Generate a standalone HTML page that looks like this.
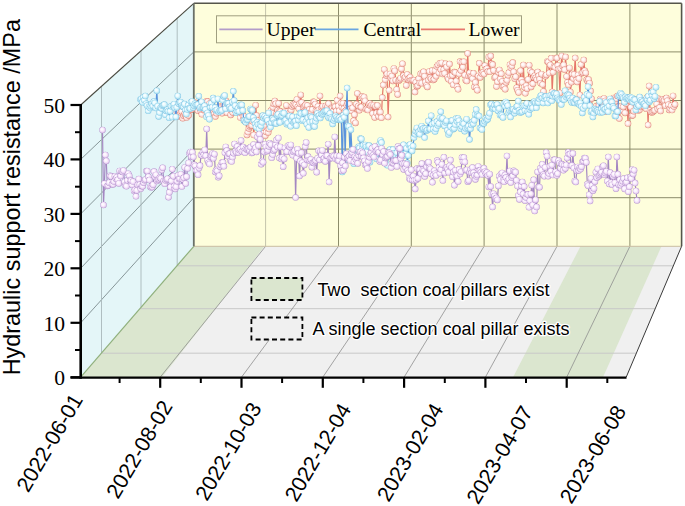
<!DOCTYPE html><html><head><meta charset="utf-8"><style>html,body{margin:0;padding:0;background:#fff;}svg{display:block}</style></head><body>
<svg width="685" height="506" viewBox="0 0 685 506">
<polygon points="80.7,377.2 626.2,377.2 681.6,246.3 193.8,246.3" fill="#f0f0f0" stroke="none" stroke-width="0" />
<polygon points="80.7,377.2 162.0,377.2 264.5,246.3 193.8,246.3" fill="#dbe6cf" stroke="none" stroke-width="0" />
<polygon points="513.0,377.2 603.0,377.2 661.5,246.3 580.5,246.3" fill="#dbe6cf" stroke="none" stroke-width="0" />
<line x1="101.4" y1="353.2" x2="636.4" y2="353.2" stroke="#c8c8c8" stroke-width="1" />
<line x1="139.9" y1="308.7" x2="655.2" y2="308.7" stroke="#c8c8c8" stroke-width="1" />
<line x1="177.0" y1="265.8" x2="673.3" y2="265.8" stroke="#c8c8c8" stroke-width="1" />
<line x1="160.2" y1="377.2" x2="265.6" y2="246.3" stroke="#8e8e8e" stroke-width="0.8" />
<line x1="241.5" y1="377.2" x2="338.5" y2="246.3" stroke="#8e8e8e" stroke-width="0.8" />
<line x1="322.8" y1="377.2" x2="411.3" y2="246.3" stroke="#8e8e8e" stroke-width="0.8" />
<line x1="404.1" y1="377.2" x2="484.1" y2="246.3" stroke="#8e8e8e" stroke-width="0.8" />
<line x1="485.4" y1="377.2" x2="557.0" y2="246.3" stroke="#8e8e8e" stroke-width="0.8" />
<line x1="566.7" y1="377.2" x2="629.9" y2="246.3" stroke="#8e8e8e" stroke-width="0.8" />
<polygon points="193.8,3.3 681.6,3.3 681.6,246.3 193.8,246.3" fill="#fefedc" stroke="none" stroke-width="0" />
<line x1="265.6" y1="3.3" x2="265.6" y2="246.3" stroke="#c4c4ac" stroke-width="1" />
<line x1="338.5" y1="3.3" x2="338.5" y2="246.3" stroke="#8c8c6a" stroke-width="1" />
<line x1="411.3" y1="3.3" x2="411.3" y2="246.3" stroke="#8c8c6a" stroke-width="1" />
<line x1="484.1" y1="3.3" x2="484.1" y2="246.3" stroke="#8c8c6a" stroke-width="1" />
<line x1="557.0" y1="3.3" x2="557.0" y2="246.3" stroke="#8c8c6a" stroke-width="1" />
<line x1="629.9" y1="3.3" x2="629.9" y2="246.3" stroke="#8c8c6a" stroke-width="1" />
<line x1="193.8" y1="197.7" x2="681.6" y2="197.7" stroke="#8c8c6a" stroke-width="1" />
<line x1="193.8" y1="149.1" x2="681.6" y2="149.1" stroke="#8c8c6a" stroke-width="1" />
<line x1="193.8" y1="100.5" x2="681.6" y2="100.5" stroke="#8c8c6a" stroke-width="1" />
<line x1="193.8" y1="51.9" x2="681.6" y2="51.9" stroke="#8c8c6a" stroke-width="1" />
<line x1="193.8" y1="246.3" x2="681.6" y2="246.3" stroke="#c8bca0" stroke-width="1" />
<polygon points="80.7,377.2 80.7,105.0 193.8,3.3 193.8,246.3" fill="#e4f6f8" stroke="none" stroke-width="0" />
<line x1="80.7" y1="322.8" x2="193.8" y2="197.7" stroke="#7d8c8e" stroke-width="0.9" />
<line x1="80.7" y1="268.3" x2="193.8" y2="149.1" stroke="#7d8c8e" stroke-width="0.9" />
<line x1="80.7" y1="213.9" x2="193.8" y2="100.5" stroke="#7d8c8e" stroke-width="0.9" />
<line x1="80.7" y1="159.4" x2="193.8" y2="51.9" stroke="#7d8c8e" stroke-width="0.9" />
<line x1="101.5" y1="86.3" x2="101.5" y2="353.1" stroke="#a8b8ba" stroke-width="0.9" />
<line x1="141.0" y1="50.8" x2="141.0" y2="307.4" stroke="#a8b8ba" stroke-width="0.9" />
<line x1="177.2" y1="18.2" x2="177.2" y2="265.5" stroke="#a8b8ba" stroke-width="0.9" />
<line x1="80.7" y1="377.2" x2="193.8" y2="246.3" stroke="#8fb07c" stroke-width="1.2" />
<line x1="80.7" y1="105.0" x2="193.8" y2="3.3" stroke="#4a4a40" stroke-width="1.1" />
<line x1="193.8" y1="3.3" x2="681.6" y2="3.3" stroke="#55554a" stroke-width="1.6" />
<line x1="681.6" y1="3.3" x2="681.6" y2="246.3" stroke="#55554a" stroke-width="1.6" />
<line x1="193.8" y1="3.3" x2="193.8" y2="246.3" stroke="#6a7068" stroke-width="1.8" />
<line x1="681.6" y1="246.3" x2="626.2" y2="377.2" stroke="#3a3a3a" stroke-width="1.0" />
<rect x="216.5" y="15.8" width="305" height="27" fill="none" stroke="#a09f80" stroke-width="1"/>
<defs><radialGradient id="gu" cx="0.5" cy="0.5" r="0.5" fx="0.36" fy="0.34"><stop offset="0" stop-color="#fff"/><stop offset="0.45" stop-color="#fbf1fd"/><stop offset="0.78" stop-color="#ead2f3"/><stop offset="1" stop-color="#b697cf"/></radialGradient><radialGradient id="gc" cx="0.5" cy="0.5" r="0.5" fx="0.36" fy="0.34"><stop offset="0" stop-color="#fff"/><stop offset="0.45" stop-color="#ecfafe"/><stop offset="0.8" stop-color="#bae9f6"/><stop offset="1" stop-color="#84c4e4"/></radialGradient><radialGradient id="gl" cx="0.5" cy="0.5" r="0.5" fx="0.36" fy="0.34"><stop offset="0" stop-color="#fff"/><stop offset="0.45" stop-color="#fff3f1"/><stop offset="0.78" stop-color="#f8d0c9"/><stop offset="1" stop-color="#e0887c"/></radialGradient></defs>
<polyline points="177.0,112.3 178.0,116.5 178.9,111.0 179.9,115.0 180.8,112.6 181.8,111.4 182.8,118.3 183.7,115.7 184.7,113.7 185.6,115.4 186.6,117.6 187.6,114.7 188.5,115.4 189.5,110.3 190.4,109.9 191.4,109.4 192.4,106.1 193.3,103.8 194.3,102.2 195.2,106.3 196.2,108.5 197.2,109.2 198.1,110.8 199.1,106.8 200.0,109.1 201.0,111.4 201.9,114.3 202.9,110.1 203.9,109.6 204.8,103.7 205.8,106.0 206.7,101.3 207.7,101.6 208.7,110.5 209.6,103.5 210.6,110.4 211.5,112.2 212.5,110.9 213.5,112.9 214.4,114.1 215.4,116.5 216.3,113.2 217.3,110.3 218.3,108.8 219.2,106.8 220.2,109.0 221.1,107.5 222.1,113.2 223.1,105.8 224.0,104.8 225.0,104.8 225.9,100.8 226.9,112.7 227.9,103.6 228.8,106.5 229.8,107.1 230.7,114.9 231.7,106.2 232.7,112.4 233.6,109.3 234.6,109.7 235.5,108.1 236.5,111.8 237.5,107.5 238.4,109.0 239.4,111.3 240.3,117.6 241.3,105.9 242.2,113.8 243.2,116.6 244.2,116.4 245.1,121.3 246.1,122.1 247.0,134.9 248.0,132.0 249.0,128.4 249.9,126.5 250.9,125.7 251.8,125.4 252.8,121.6 253.8,135.1 254.7,121.1 255.7,105.2 256.6,115.5 257.6,120.5 258.6,125.7 259.5,125.3 260.5,125.4 261.4,127.9 262.4,132.5 263.4,127.4 264.3,125.3 265.3,135.7 266.2,132.1 267.2,121.4 268.2,132.5 269.1,129.0 270.1,119.3 271.0,110.5 272.0,112.8 273.0,107.2 273.9,104.0 274.9,101.1 275.8,103.8 276.8,113.6 277.8,110.3 278.7,103.4 279.7,111.0 280.6,111.6 281.6,115.9 282.5,119.9 283.5,114.7 284.5,112.2 285.4,111.5 286.4,105.4 287.3,111.7 288.3,118.6 289.3,115.7 290.2,112.1 291.2,110.1 292.1,106.4 293.1,104.4 294.1,105.4 295.0,103.6 296.0,104.8 296.9,99.4 297.9,106.7 298.9,108.8 299.8,103.5 300.8,94.9 301.7,102.5 302.7,112.0 303.7,107.2 304.6,106.1 305.6,105.0 306.5,110.8 307.5,105.5 308.5,112.8 309.4,109.6 310.4,114.4 311.3,112.1 312.3,109.6 313.3,101.8 314.2,102.0 315.2,104.2 316.1,110.2 317.1,110.9 318.1,106.4 319.0,109.8 320.0,96.0 320.9,111.0 321.9,107.6 322.8,106.2 323.8,111.7 324.8,113.1 325.7,106.0 326.7,109.3 327.6,106.5 328.6,103.6 329.6,112.6 330.5,114.8 331.5,107.9 332.4,108.6 333.4,111.1 334.4,106.4 335.3,106.8 336.3,111.0 337.2,100.3 338.2,106.0 339.2,110.9 340.1,96.0 341.1,103.1 342.0,107.3 343.0,103.2 344.0,108.6 344.9,111.4 345.9,110.8 346.8,105.3 347.8,103.5 348.8,110.2 349.7,104.2 350.7,108.7 351.6,111.0 352.6,107.9 353.6,120.8 354.5,114.7 355.5,122.9 356.4,104.2 357.4,93.5 358.4,106.0 359.3,110.3 360.3,107.2 361.2,107.1 362.2,96.6 363.2,98.4 364.1,97.0 365.1,100.9 366.0,109.2 367.0,108.6 367.9,110.1 368.9,104.7 369.9,103.4 370.8,106.0 371.8,105.0 372.7,113.5 373.7,105.2 374.7,117.4 375.6,106.4 376.6,113.1 377.5,105.5 378.5,116.2 379.5,112.4 380.4,112.1 381.4,117.7 382.3,97.6 383.3,85.0 384.3,69.4 385.2,79.6 386.2,75.4 387.1,73.9 388.1,117.0 389.1,90.3 390.0,74.0 391.0,78.1 391.9,76.1 392.9,80.9 393.9,68.4 394.8,70.9 395.8,80.2 396.7,89.5 397.7,94.4 398.7,80.7 399.6,79.8 400.6,78.2 401.5,68.9 402.5,63.7 403.5,75.7 404.4,78.3 405.4,76.9 406.3,85.4 407.3,74.5 408.2,79.4 409.2,78.3 410.2,77.2 411.1,80.4 412.1,79.9 413.0,80.2 414.0,80.3 415.0,92.0 415.9,82.2 416.9,86.4 417.8,85.7 418.8,78.7 419.8,83.1 420.7,73.8 421.7,83.2 422.6,74.1 423.6,71.8 424.6,76.3 425.5,82.0 426.5,85.4 427.4,86.9 428.4,80.0 429.4,71.4 430.3,77.5 431.3,78.8 432.2,70.6 433.2,80.0 434.2,79.2 435.1,70.7 436.1,76.2 437.0,66.6 438.0,64.9 439.0,72.9 439.9,63.3 440.9,69.5 441.8,62.9 442.8,74.1 443.8,69.5 444.7,73.5 445.7,63.7 446.6,66.9 447.6,77.4 448.5,79.2 449.5,64.1 450.5,75.8 451.4,81.4 452.4,75.3 453.3,84.7 454.3,72.1 455.3,72.6 456.2,81.1 457.2,86.8 458.1,89.3 459.1,74.0 460.1,61.6 461.0,70.5 462.0,62.3 462.9,67.2 463.9,61.7 464.9,75.2 465.8,80.2 466.8,81.0 467.7,53.5 468.7,76.1 469.7,73.0 470.6,76.2 471.6,76.8 472.5,78.6 473.5,73.3 474.5,86.9 475.4,82.4 476.4,87.9 477.3,90.2 478.3,76.0 479.3,63.3 480.2,77.4 481.2,73.0 482.1,74.1 483.1,72.2 484.1,74.0 485.0,65.7 486.0,69.3 486.9,68.7 487.9,71.6 488.8,57.1 489.8,71.8 490.8,56.0 491.7,63.7 492.7,64.6 493.6,70.5 494.6,77.7 495.6,77.0 496.5,86.4 497.5,81.7 498.4,72.3 499.4,70.0 500.4,78.8 501.3,73.8 502.3,81.5 503.2,86.7 504.2,86.3 505.2,89.2 506.1,82.4 507.1,80.2 508.0,75.2 509.0,72.6 510.0,64.7 510.9,67.9 511.9,66.0 512.8,62.6 513.8,71.9 514.8,78.8 515.7,76.8 516.7,87.7 517.6,90.3 518.6,92.4 519.6,82.0 520.5,70.8 521.5,79.7 522.4,82.5 523.4,65.0 524.4,87.2 525.3,93.3 526.3,85.7 527.2,88.7 528.2,79.5 529.2,65.2 530.1,71.1 531.1,86.9 532.0,72.5 533.0,83.7 533.9,77.3 534.9,75.7 535.9,77.8 536.8,79.7 537.8,72.1 538.7,75.8 539.7,79.3 540.7,83.3 541.6,74.2 542.6,84.6 543.5,91.5 544.5,97.7 545.5,76.3 546.4,74.9 547.4,61.4 548.3,62.0 549.3,73.0 550.3,65.0 551.2,58.3 552.2,92.0 553.1,72.2 554.1,66.8 555.1,67.3 556.0,58.0 557.0,58.1 557.9,65.4 558.9,69.1 559.9,93.0 560.8,68.4 561.8,56.0 562.7,66.2 563.7,65.0 564.7,69.8 565.6,57.0 566.6,76.5 567.5,82.5 568.5,85.0 569.5,67.9 570.4,92.0 571.4,82.2 572.3,74.1 573.3,78.5 574.2,74.4 575.2,58.0 576.2,80.2 577.1,81.9 578.1,75.0 579.0,78.5 580.0,95.0 581.0,64.5 581.9,73.2 582.9,72.4 583.8,60.0 584.8,70.8 585.8,72.9 586.7,79.8 587.7,81.2 588.6,79.5 589.6,83.2 590.6,91.1 591.5,98.7 592.5,108.5 593.4,111.8 594.4,112.7 595.4,109.8 596.3,106.2 597.3,108.4 598.2,105.2 599.2,105.6 600.2,99.2 601.1,100.4 602.1,107.5 603.0,102.5 604.0,98.4 605.0,101.0 605.9,108.7 606.9,111.8 607.8,107.1 608.8,104.3 609.8,104.2 610.7,101.4 611.7,103.3 612.6,103.2 613.6,97.9 614.5,98.8 615.5,101.1 616.5,98.8 617.4,96.0 618.4,107.0 619.3,118.5 620.3,111.0 621.3,106.3 622.2,109.7 623.2,106.9 624.1,102.1 625.1,112.9 626.1,103.5 627.0,100.7 628.0,123.6 628.9,97.8 629.9,100.8 630.9,107.3 631.8,115.8 632.8,115.3 633.7,111.2 634.7,101.3 635.7,103.6 636.6,99.4 637.6,102.4 638.5,110.5 639.5,109.8 640.5,106.9 641.4,102.1 642.4,104.2 643.3,106.0 644.3,100.6 645.3,100.5 646.2,108.8 647.2,97.5 648.1,125.0 649.1,86.0 650.1,110.5 651.0,112.1 652.0,112.4 652.9,111.8 653.9,110.8 654.8,110.3 655.8,98.7 656.8,104.1 657.7,108.8 658.7,98.8 659.6,107.6 660.6,111.0 661.6,99.3 662.5,99.9 663.5,101.2 664.4,100.5 665.4,105.7 666.4,98.1 667.3,100.8 668.3,104.8 669.2,109.9 670.2,108.3 671.2,105.7 672.1,110.1 673.1,95.9 674.0,106.6 675.0,104.4" fill="none" stroke="#e6766a" stroke-width="1.2" stroke-linejoin="round"/>
<g fill="url(#gl)" stroke="none" stroke-width="0.7">
<circle cx="177.0" cy="112.3" r="3.25"/><circle cx="178.0" cy="116.5" r="3.25"/><circle cx="178.9" cy="111.0" r="3.25"/><circle cx="179.9" cy="115.0" r="3.25"/><circle cx="180.8" cy="112.6" r="3.25"/><circle cx="181.8" cy="111.4" r="3.25"/><circle cx="182.8" cy="118.3" r="3.25"/><circle cx="183.7" cy="115.7" r="3.25"/><circle cx="184.7" cy="113.7" r="3.25"/><circle cx="185.6" cy="115.4" r="3.25"/><circle cx="186.6" cy="117.6" r="3.25"/><circle cx="187.6" cy="114.7" r="3.25"/><circle cx="188.5" cy="115.4" r="3.25"/><circle cx="189.5" cy="110.3" r="3.25"/><circle cx="190.4" cy="109.9" r="3.25"/><circle cx="191.4" cy="109.4" r="3.25"/><circle cx="192.4" cy="106.1" r="3.25"/><circle cx="193.3" cy="103.8" r="3.25"/><circle cx="194.3" cy="102.2" r="3.25"/><circle cx="195.2" cy="106.3" r="3.25"/><circle cx="196.2" cy="108.5" r="3.25"/><circle cx="197.2" cy="109.2" r="3.25"/><circle cx="198.1" cy="110.8" r="3.25"/><circle cx="199.1" cy="106.8" r="3.25"/><circle cx="200.0" cy="109.1" r="3.25"/><circle cx="201.0" cy="111.4" r="3.25"/><circle cx="201.9" cy="114.3" r="3.25"/><circle cx="202.9" cy="110.1" r="3.25"/><circle cx="203.9" cy="109.6" r="3.25"/><circle cx="204.8" cy="103.7" r="3.25"/><circle cx="205.8" cy="106.0" r="3.25"/><circle cx="206.7" cy="101.3" r="3.25"/><circle cx="207.7" cy="101.6" r="3.25"/><circle cx="208.7" cy="110.5" r="3.25"/><circle cx="209.6" cy="103.5" r="3.25"/><circle cx="210.6" cy="110.4" r="3.25"/><circle cx="211.5" cy="112.2" r="3.25"/><circle cx="212.5" cy="110.9" r="3.25"/><circle cx="213.5" cy="112.9" r="3.25"/><circle cx="214.4" cy="114.1" r="3.25"/><circle cx="215.4" cy="116.5" r="3.25"/><circle cx="216.3" cy="113.2" r="3.25"/><circle cx="217.3" cy="110.3" r="3.25"/><circle cx="218.3" cy="108.8" r="3.25"/><circle cx="219.2" cy="106.8" r="3.25"/><circle cx="220.2" cy="109.0" r="3.25"/><circle cx="221.1" cy="107.5" r="3.25"/><circle cx="222.1" cy="113.2" r="3.25"/><circle cx="223.1" cy="105.8" r="3.25"/><circle cx="224.0" cy="104.8" r="3.25"/><circle cx="225.0" cy="104.8" r="3.25"/><circle cx="225.9" cy="100.8" r="3.25"/><circle cx="226.9" cy="112.7" r="3.25"/><circle cx="227.9" cy="103.6" r="3.25"/><circle cx="228.8" cy="106.5" r="3.25"/><circle cx="229.8" cy="107.1" r="3.25"/><circle cx="230.7" cy="114.9" r="3.25"/><circle cx="231.7" cy="106.2" r="3.25"/><circle cx="232.7" cy="112.4" r="3.25"/><circle cx="233.6" cy="109.3" r="3.25"/><circle cx="234.6" cy="109.7" r="3.25"/><circle cx="235.5" cy="108.1" r="3.25"/><circle cx="236.5" cy="111.8" r="3.25"/><circle cx="237.5" cy="107.5" r="3.25"/><circle cx="238.4" cy="109.0" r="3.25"/><circle cx="239.4" cy="111.3" r="3.25"/><circle cx="240.3" cy="117.6" r="3.25"/><circle cx="241.3" cy="105.9" r="3.25"/><circle cx="242.2" cy="113.8" r="3.25"/><circle cx="243.2" cy="116.6" r="3.25"/><circle cx="244.2" cy="116.4" r="3.25"/><circle cx="245.1" cy="121.3" r="3.25"/><circle cx="246.1" cy="122.1" r="3.25"/><circle cx="247.0" cy="134.9" r="3.25"/><circle cx="248.0" cy="132.0" r="3.25"/><circle cx="249.0" cy="128.4" r="3.25"/><circle cx="249.9" cy="126.5" r="3.25"/><circle cx="250.9" cy="125.7" r="3.25"/><circle cx="251.8" cy="125.4" r="3.25"/><circle cx="252.8" cy="121.6" r="3.25"/><circle cx="253.8" cy="135.1" r="3.25"/><circle cx="254.7" cy="121.1" r="3.25"/><circle cx="255.7" cy="105.2" r="3.25"/><circle cx="256.6" cy="115.5" r="3.25"/><circle cx="257.6" cy="120.5" r="3.25"/><circle cx="258.6" cy="125.7" r="3.25"/><circle cx="259.5" cy="125.3" r="3.25"/><circle cx="260.5" cy="125.4" r="3.25"/><circle cx="261.4" cy="127.9" r="3.25"/><circle cx="262.4" cy="132.5" r="3.25"/><circle cx="263.4" cy="127.4" r="3.25"/><circle cx="264.3" cy="125.3" r="3.25"/><circle cx="265.3" cy="135.7" r="3.25"/><circle cx="266.2" cy="132.1" r="3.25"/><circle cx="267.2" cy="121.4" r="3.25"/><circle cx="268.2" cy="132.5" r="3.25"/><circle cx="269.1" cy="129.0" r="3.25"/><circle cx="270.1" cy="119.3" r="3.25"/><circle cx="271.0" cy="110.5" r="3.25"/><circle cx="272.0" cy="112.8" r="3.25"/><circle cx="273.0" cy="107.2" r="3.25"/><circle cx="273.9" cy="104.0" r="3.25"/><circle cx="274.9" cy="101.1" r="3.25"/><circle cx="275.8" cy="103.8" r="3.25"/><circle cx="276.8" cy="113.6" r="3.25"/><circle cx="277.8" cy="110.3" r="3.25"/><circle cx="278.7" cy="103.4" r="3.25"/><circle cx="279.7" cy="111.0" r="3.25"/><circle cx="280.6" cy="111.6" r="3.25"/><circle cx="281.6" cy="115.9" r="3.25"/><circle cx="282.5" cy="119.9" r="3.25"/><circle cx="283.5" cy="114.7" r="3.25"/><circle cx="284.5" cy="112.2" r="3.25"/><circle cx="285.4" cy="111.5" r="3.25"/><circle cx="286.4" cy="105.4" r="3.25"/><circle cx="287.3" cy="111.7" r="3.25"/><circle cx="288.3" cy="118.6" r="3.25"/><circle cx="289.3" cy="115.7" r="3.25"/><circle cx="290.2" cy="112.1" r="3.25"/><circle cx="291.2" cy="110.1" r="3.25"/><circle cx="292.1" cy="106.4" r="3.25"/><circle cx="293.1" cy="104.4" r="3.25"/><circle cx="294.1" cy="105.4" r="3.25"/><circle cx="295.0" cy="103.6" r="3.25"/><circle cx="296.0" cy="104.8" r="3.25"/><circle cx="296.9" cy="99.4" r="3.25"/><circle cx="297.9" cy="106.7" r="3.25"/><circle cx="298.9" cy="108.8" r="3.25"/><circle cx="299.8" cy="103.5" r="3.25"/><circle cx="300.8" cy="94.9" r="3.25"/><circle cx="301.7" cy="102.5" r="3.25"/><circle cx="302.7" cy="112.0" r="3.25"/><circle cx="303.7" cy="107.2" r="3.25"/><circle cx="304.6" cy="106.1" r="3.25"/><circle cx="305.6" cy="105.0" r="3.25"/><circle cx="306.5" cy="110.8" r="3.25"/><circle cx="307.5" cy="105.5" r="3.25"/><circle cx="308.5" cy="112.8" r="3.25"/><circle cx="309.4" cy="109.6" r="3.25"/><circle cx="310.4" cy="114.4" r="3.25"/><circle cx="311.3" cy="112.1" r="3.25"/><circle cx="312.3" cy="109.6" r="3.25"/><circle cx="313.3" cy="101.8" r="3.25"/><circle cx="314.2" cy="102.0" r="3.25"/><circle cx="315.2" cy="104.2" r="3.25"/><circle cx="316.1" cy="110.2" r="3.25"/><circle cx="317.1" cy="110.9" r="3.25"/><circle cx="318.1" cy="106.4" r="3.25"/><circle cx="319.0" cy="109.8" r="3.25"/><circle cx="320.0" cy="96.0" r="3.25"/><circle cx="320.9" cy="111.0" r="3.25"/><circle cx="321.9" cy="107.6" r="3.25"/><circle cx="322.8" cy="106.2" r="3.25"/><circle cx="323.8" cy="111.7" r="3.25"/><circle cx="324.8" cy="113.1" r="3.25"/><circle cx="325.7" cy="106.0" r="3.25"/><circle cx="326.7" cy="109.3" r="3.25"/><circle cx="327.6" cy="106.5" r="3.25"/><circle cx="328.6" cy="103.6" r="3.25"/><circle cx="329.6" cy="112.6" r="3.25"/><circle cx="330.5" cy="114.8" r="3.25"/><circle cx="331.5" cy="107.9" r="3.25"/><circle cx="332.4" cy="108.6" r="3.25"/><circle cx="333.4" cy="111.1" r="3.25"/><circle cx="334.4" cy="106.4" r="3.25"/><circle cx="335.3" cy="106.8" r="3.25"/><circle cx="336.3" cy="111.0" r="3.25"/><circle cx="337.2" cy="100.3" r="3.25"/><circle cx="338.2" cy="106.0" r="3.25"/><circle cx="339.2" cy="110.9" r="3.25"/><circle cx="340.1" cy="96.0" r="3.25"/><circle cx="341.1" cy="103.1" r="3.25"/><circle cx="342.0" cy="107.3" r="3.25"/><circle cx="343.0" cy="103.2" r="3.25"/><circle cx="344.0" cy="108.6" r="3.25"/><circle cx="344.9" cy="111.4" r="3.25"/><circle cx="345.9" cy="110.8" r="3.25"/><circle cx="346.8" cy="105.3" r="3.25"/><circle cx="347.8" cy="103.5" r="3.25"/><circle cx="348.8" cy="110.2" r="3.25"/><circle cx="349.7" cy="104.2" r="3.25"/><circle cx="350.7" cy="108.7" r="3.25"/><circle cx="351.6" cy="111.0" r="3.25"/><circle cx="352.6" cy="107.9" r="3.25"/><circle cx="353.6" cy="120.8" r="3.25"/><circle cx="354.5" cy="114.7" r="3.25"/><circle cx="355.5" cy="122.9" r="3.25"/><circle cx="356.4" cy="104.2" r="3.25"/><circle cx="357.4" cy="93.5" r="3.25"/><circle cx="358.4" cy="106.0" r="3.25"/><circle cx="359.3" cy="110.3" r="3.25"/><circle cx="360.3" cy="107.2" r="3.25"/><circle cx="361.2" cy="107.1" r="3.25"/><circle cx="362.2" cy="96.6" r="3.25"/><circle cx="363.2" cy="98.4" r="3.25"/><circle cx="364.1" cy="97.0" r="3.25"/><circle cx="365.1" cy="100.9" r="3.25"/><circle cx="366.0" cy="109.2" r="3.25"/><circle cx="367.0" cy="108.6" r="3.25"/><circle cx="367.9" cy="110.1" r="3.25"/><circle cx="368.9" cy="104.7" r="3.25"/><circle cx="369.9" cy="103.4" r="3.25"/><circle cx="370.8" cy="106.0" r="3.25"/><circle cx="371.8" cy="105.0" r="3.25"/><circle cx="372.7" cy="113.5" r="3.25"/><circle cx="373.7" cy="105.2" r="3.25"/><circle cx="374.7" cy="117.4" r="3.25"/><circle cx="375.6" cy="106.4" r="3.25"/><circle cx="376.6" cy="113.1" r="3.25"/><circle cx="377.5" cy="105.5" r="3.25"/><circle cx="378.5" cy="116.2" r="3.25"/><circle cx="379.5" cy="112.4" r="3.25"/><circle cx="380.4" cy="112.1" r="3.25"/><circle cx="381.4" cy="117.7" r="3.25"/><circle cx="382.3" cy="97.6" r="3.25"/><circle cx="383.3" cy="85.0" r="3.25"/><circle cx="384.3" cy="69.4" r="3.25"/><circle cx="385.2" cy="79.6" r="3.25"/><circle cx="386.2" cy="75.4" r="3.25"/><circle cx="387.1" cy="73.9" r="3.25"/><circle cx="388.1" cy="117.0" r="3.25"/><circle cx="389.1" cy="90.3" r="3.25"/><circle cx="390.0" cy="74.0" r="3.25"/><circle cx="391.0" cy="78.1" r="3.25"/><circle cx="391.9" cy="76.1" r="3.25"/><circle cx="392.9" cy="80.9" r="3.25"/><circle cx="393.9" cy="68.4" r="3.25"/><circle cx="394.8" cy="70.9" r="3.25"/><circle cx="395.8" cy="80.2" r="3.25"/><circle cx="396.7" cy="89.5" r="3.25"/><circle cx="397.7" cy="94.4" r="3.25"/><circle cx="398.7" cy="80.7" r="3.25"/><circle cx="399.6" cy="79.8" r="3.25"/><circle cx="400.6" cy="78.2" r="3.25"/><circle cx="401.5" cy="68.9" r="3.25"/><circle cx="402.5" cy="63.7" r="3.25"/><circle cx="403.5" cy="75.7" r="3.25"/><circle cx="404.4" cy="78.3" r="3.25"/><circle cx="405.4" cy="76.9" r="3.25"/><circle cx="406.3" cy="85.4" r="3.25"/><circle cx="407.3" cy="74.5" r="3.25"/><circle cx="408.2" cy="79.4" r="3.25"/><circle cx="409.2" cy="78.3" r="3.25"/><circle cx="410.2" cy="77.2" r="3.25"/><circle cx="411.1" cy="80.4" r="3.25"/><circle cx="412.1" cy="79.9" r="3.25"/><circle cx="413.0" cy="80.2" r="3.25"/><circle cx="414.0" cy="80.3" r="3.25"/><circle cx="415.0" cy="92.0" r="3.25"/><circle cx="415.9" cy="82.2" r="3.25"/><circle cx="416.9" cy="86.4" r="3.25"/><circle cx="417.8" cy="85.7" r="3.25"/><circle cx="418.8" cy="78.7" r="3.25"/><circle cx="419.8" cy="83.1" r="3.25"/><circle cx="420.7" cy="73.8" r="3.25"/><circle cx="421.7" cy="83.2" r="3.25"/><circle cx="422.6" cy="74.1" r="3.25"/><circle cx="423.6" cy="71.8" r="3.25"/><circle cx="424.6" cy="76.3" r="3.25"/><circle cx="425.5" cy="82.0" r="3.25"/><circle cx="426.5" cy="85.4" r="3.25"/><circle cx="427.4" cy="86.9" r="3.25"/><circle cx="428.4" cy="80.0" r="3.25"/><circle cx="429.4" cy="71.4" r="3.25"/><circle cx="430.3" cy="77.5" r="3.25"/><circle cx="431.3" cy="78.8" r="3.25"/><circle cx="432.2" cy="70.6" r="3.25"/><circle cx="433.2" cy="80.0" r="3.25"/><circle cx="434.2" cy="79.2" r="3.25"/><circle cx="435.1" cy="70.7" r="3.25"/><circle cx="436.1" cy="76.2" r="3.25"/><circle cx="437.0" cy="66.6" r="3.25"/><circle cx="438.0" cy="64.9" r="3.25"/><circle cx="439.0" cy="72.9" r="3.25"/><circle cx="439.9" cy="63.3" r="3.25"/><circle cx="440.9" cy="69.5" r="3.25"/><circle cx="441.8" cy="62.9" r="3.25"/><circle cx="442.8" cy="74.1" r="3.25"/><circle cx="443.8" cy="69.5" r="3.25"/><circle cx="444.7" cy="73.5" r="3.25"/><circle cx="445.7" cy="63.7" r="3.25"/><circle cx="446.6" cy="66.9" r="3.25"/><circle cx="447.6" cy="77.4" r="3.25"/><circle cx="448.5" cy="79.2" r="3.25"/><circle cx="449.5" cy="64.1" r="3.25"/><circle cx="450.5" cy="75.8" r="3.25"/><circle cx="451.4" cy="81.4" r="3.25"/><circle cx="452.4" cy="75.3" r="3.25"/><circle cx="453.3" cy="84.7" r="3.25"/><circle cx="454.3" cy="72.1" r="3.25"/><circle cx="455.3" cy="72.6" r="3.25"/><circle cx="456.2" cy="81.1" r="3.25"/><circle cx="457.2" cy="86.8" r="3.25"/><circle cx="458.1" cy="89.3" r="3.25"/><circle cx="459.1" cy="74.0" r="3.25"/><circle cx="460.1" cy="61.6" r="3.25"/><circle cx="461.0" cy="70.5" r="3.25"/><circle cx="462.0" cy="62.3" r="3.25"/><circle cx="462.9" cy="67.2" r="3.25"/><circle cx="463.9" cy="61.7" r="3.25"/><circle cx="464.9" cy="75.2" r="3.25"/><circle cx="465.8" cy="80.2" r="3.25"/><circle cx="466.8" cy="81.0" r="3.25"/><circle cx="467.7" cy="53.5" r="3.25"/><circle cx="468.7" cy="76.1" r="3.25"/><circle cx="469.7" cy="73.0" r="3.25"/><circle cx="470.6" cy="76.2" r="3.25"/><circle cx="471.6" cy="76.8" r="3.25"/><circle cx="472.5" cy="78.6" r="3.25"/><circle cx="473.5" cy="73.3" r="3.25"/><circle cx="474.5" cy="86.9" r="3.25"/><circle cx="475.4" cy="82.4" r="3.25"/><circle cx="476.4" cy="87.9" r="3.25"/><circle cx="477.3" cy="90.2" r="3.25"/><circle cx="478.3" cy="76.0" r="3.25"/><circle cx="479.3" cy="63.3" r="3.25"/><circle cx="480.2" cy="77.4" r="3.25"/><circle cx="481.2" cy="73.0" r="3.25"/><circle cx="482.1" cy="74.1" r="3.25"/><circle cx="483.1" cy="72.2" r="3.25"/><circle cx="484.1" cy="74.0" r="3.25"/><circle cx="485.0" cy="65.7" r="3.25"/><circle cx="486.0" cy="69.3" r="3.25"/><circle cx="486.9" cy="68.7" r="3.25"/><circle cx="487.9" cy="71.6" r="3.25"/><circle cx="488.8" cy="57.1" r="3.25"/><circle cx="489.8" cy="71.8" r="3.25"/><circle cx="490.8" cy="56.0" r="3.25"/><circle cx="491.7" cy="63.7" r="3.25"/><circle cx="492.7" cy="64.6" r="3.25"/><circle cx="493.6" cy="70.5" r="3.25"/><circle cx="494.6" cy="77.7" r="3.25"/><circle cx="495.6" cy="77.0" r="3.25"/><circle cx="496.5" cy="86.4" r="3.25"/><circle cx="497.5" cy="81.7" r="3.25"/><circle cx="498.4" cy="72.3" r="3.25"/><circle cx="499.4" cy="70.0" r="3.25"/><circle cx="500.4" cy="78.8" r="3.25"/><circle cx="501.3" cy="73.8" r="3.25"/><circle cx="502.3" cy="81.5" r="3.25"/><circle cx="503.2" cy="86.7" r="3.25"/><circle cx="504.2" cy="86.3" r="3.25"/><circle cx="505.2" cy="89.2" r="3.25"/><circle cx="506.1" cy="82.4" r="3.25"/><circle cx="507.1" cy="80.2" r="3.25"/><circle cx="508.0" cy="75.2" r="3.25"/><circle cx="509.0" cy="72.6" r="3.25"/><circle cx="510.0" cy="64.7" r="3.25"/><circle cx="510.9" cy="67.9" r="3.25"/><circle cx="511.9" cy="66.0" r="3.25"/><circle cx="512.8" cy="62.6" r="3.25"/><circle cx="513.8" cy="71.9" r="3.25"/><circle cx="514.8" cy="78.8" r="3.25"/><circle cx="515.7" cy="76.8" r="3.25"/><circle cx="516.7" cy="87.7" r="3.25"/><circle cx="517.6" cy="90.3" r="3.25"/><circle cx="518.6" cy="92.4" r="3.25"/><circle cx="519.6" cy="82.0" r="3.25"/><circle cx="520.5" cy="70.8" r="3.25"/><circle cx="521.5" cy="79.7" r="3.25"/><circle cx="522.4" cy="82.5" r="3.25"/><circle cx="523.4" cy="65.0" r="3.25"/><circle cx="524.4" cy="87.2" r="3.25"/><circle cx="525.3" cy="93.3" r="3.25"/><circle cx="526.3" cy="85.7" r="3.25"/><circle cx="527.2" cy="88.7" r="3.25"/><circle cx="528.2" cy="79.5" r="3.25"/><circle cx="529.2" cy="65.2" r="3.25"/><circle cx="530.1" cy="71.1" r="3.25"/><circle cx="531.1" cy="86.9" r="3.25"/><circle cx="532.0" cy="72.5" r="3.25"/><circle cx="533.0" cy="83.7" r="3.25"/><circle cx="533.9" cy="77.3" r="3.25"/><circle cx="534.9" cy="75.7" r="3.25"/><circle cx="535.9" cy="77.8" r="3.25"/><circle cx="536.8" cy="79.7" r="3.25"/><circle cx="537.8" cy="72.1" r="3.25"/><circle cx="538.7" cy="75.8" r="3.25"/><circle cx="539.7" cy="79.3" r="3.25"/><circle cx="540.7" cy="83.3" r="3.25"/><circle cx="541.6" cy="74.2" r="3.25"/><circle cx="542.6" cy="84.6" r="3.25"/><circle cx="543.5" cy="91.5" r="3.25"/><circle cx="544.5" cy="97.7" r="3.25"/><circle cx="545.5" cy="76.3" r="3.25"/><circle cx="546.4" cy="74.9" r="3.25"/><circle cx="547.4" cy="61.4" r="3.25"/><circle cx="548.3" cy="62.0" r="3.25"/><circle cx="549.3" cy="73.0" r="3.25"/><circle cx="550.3" cy="65.0" r="3.25"/><circle cx="551.2" cy="58.3" r="3.25"/><circle cx="552.2" cy="92.0" r="3.25"/><circle cx="553.1" cy="72.2" r="3.25"/><circle cx="554.1" cy="66.8" r="3.25"/><circle cx="555.1" cy="67.3" r="3.25"/><circle cx="556.0" cy="58.0" r="3.25"/><circle cx="557.0" cy="58.1" r="3.25"/><circle cx="557.9" cy="65.4" r="3.25"/><circle cx="558.9" cy="69.1" r="3.25"/><circle cx="559.9" cy="93.0" r="3.25"/><circle cx="560.8" cy="68.4" r="3.25"/><circle cx="561.8" cy="56.0" r="3.25"/><circle cx="562.7" cy="66.2" r="3.25"/><circle cx="563.7" cy="65.0" r="3.25"/><circle cx="564.7" cy="69.8" r="3.25"/><circle cx="565.6" cy="57.0" r="3.25"/><circle cx="566.6" cy="76.5" r="3.25"/><circle cx="567.5" cy="82.5" r="3.25"/><circle cx="568.5" cy="85.0" r="3.25"/><circle cx="569.5" cy="67.9" r="3.25"/><circle cx="570.4" cy="92.0" r="3.25"/><circle cx="571.4" cy="82.2" r="3.25"/><circle cx="572.3" cy="74.1" r="3.25"/><circle cx="573.3" cy="78.5" r="3.25"/><circle cx="574.2" cy="74.4" r="3.25"/><circle cx="575.2" cy="58.0" r="3.25"/><circle cx="576.2" cy="80.2" r="3.25"/><circle cx="577.1" cy="81.9" r="3.25"/><circle cx="578.1" cy="75.0" r="3.25"/><circle cx="579.0" cy="78.5" r="3.25"/><circle cx="580.0" cy="95.0" r="3.25"/><circle cx="581.0" cy="64.5" r="3.25"/><circle cx="581.9" cy="73.2" r="3.25"/><circle cx="582.9" cy="72.4" r="3.25"/><circle cx="583.8" cy="60.0" r="3.25"/><circle cx="584.8" cy="70.8" r="3.25"/><circle cx="585.8" cy="72.9" r="3.25"/><circle cx="586.7" cy="79.8" r="3.25"/><circle cx="587.7" cy="81.2" r="3.25"/><circle cx="588.6" cy="79.5" r="3.25"/><circle cx="589.6" cy="83.2" r="3.25"/><circle cx="590.6" cy="91.1" r="3.25"/><circle cx="591.5" cy="98.7" r="3.25"/><circle cx="592.5" cy="108.5" r="3.25"/><circle cx="593.4" cy="111.8" r="3.25"/><circle cx="594.4" cy="112.7" r="3.25"/><circle cx="595.4" cy="109.8" r="3.25"/><circle cx="596.3" cy="106.2" r="3.25"/><circle cx="597.3" cy="108.4" r="3.25"/><circle cx="598.2" cy="105.2" r="3.25"/><circle cx="599.2" cy="105.6" r="3.25"/><circle cx="600.2" cy="99.2" r="3.25"/><circle cx="601.1" cy="100.4" r="3.25"/><circle cx="602.1" cy="107.5" r="3.25"/><circle cx="603.0" cy="102.5" r="3.25"/><circle cx="604.0" cy="98.4" r="3.25"/><circle cx="605.0" cy="101.0" r="3.25"/><circle cx="605.9" cy="108.7" r="3.25"/><circle cx="606.9" cy="111.8" r="3.25"/><circle cx="607.8" cy="107.1" r="3.25"/><circle cx="608.8" cy="104.3" r="3.25"/><circle cx="609.8" cy="104.2" r="3.25"/><circle cx="610.7" cy="101.4" r="3.25"/><circle cx="611.7" cy="103.3" r="3.25"/><circle cx="612.6" cy="103.2" r="3.25"/><circle cx="613.6" cy="97.9" r="3.25"/><circle cx="614.5" cy="98.8" r="3.25"/><circle cx="615.5" cy="101.1" r="3.25"/><circle cx="616.5" cy="98.8" r="3.25"/><circle cx="617.4" cy="96.0" r="3.25"/><circle cx="618.4" cy="107.0" r="3.25"/><circle cx="619.3" cy="118.5" r="3.25"/><circle cx="620.3" cy="111.0" r="3.25"/><circle cx="621.3" cy="106.3" r="3.25"/><circle cx="622.2" cy="109.7" r="3.25"/><circle cx="623.2" cy="106.9" r="3.25"/><circle cx="624.1" cy="102.1" r="3.25"/><circle cx="625.1" cy="112.9" r="3.25"/><circle cx="626.1" cy="103.5" r="3.25"/><circle cx="627.0" cy="100.7" r="3.25"/><circle cx="628.0" cy="123.6" r="3.25"/><circle cx="628.9" cy="97.8" r="3.25"/><circle cx="629.9" cy="100.8" r="3.25"/><circle cx="630.9" cy="107.3" r="3.25"/><circle cx="631.8" cy="115.8" r="3.25"/><circle cx="632.8" cy="115.3" r="3.25"/><circle cx="633.7" cy="111.2" r="3.25"/><circle cx="634.7" cy="101.3" r="3.25"/><circle cx="635.7" cy="103.6" r="3.25"/><circle cx="636.6" cy="99.4" r="3.25"/><circle cx="637.6" cy="102.4" r="3.25"/><circle cx="638.5" cy="110.5" r="3.25"/><circle cx="639.5" cy="109.8" r="3.25"/><circle cx="640.5" cy="106.9" r="3.25"/><circle cx="641.4" cy="102.1" r="3.25"/><circle cx="642.4" cy="104.2" r="3.25"/><circle cx="643.3" cy="106.0" r="3.25"/><circle cx="644.3" cy="100.6" r="3.25"/><circle cx="645.3" cy="100.5" r="3.25"/><circle cx="646.2" cy="108.8" r="3.25"/><circle cx="647.2" cy="97.5" r="3.25"/><circle cx="648.1" cy="125.0" r="3.25"/><circle cx="649.1" cy="86.0" r="3.25"/><circle cx="650.1" cy="110.5" r="3.25"/><circle cx="651.0" cy="112.1" r="3.25"/><circle cx="652.0" cy="112.4" r="3.25"/><circle cx="652.9" cy="111.8" r="3.25"/><circle cx="653.9" cy="110.8" r="3.25"/><circle cx="654.8" cy="110.3" r="3.25"/><circle cx="655.8" cy="98.7" r="3.25"/><circle cx="656.8" cy="104.1" r="3.25"/><circle cx="657.7" cy="108.8" r="3.25"/><circle cx="658.7" cy="98.8" r="3.25"/><circle cx="659.6" cy="107.6" r="3.25"/><circle cx="660.6" cy="111.0" r="3.25"/><circle cx="661.6" cy="99.3" r="3.25"/><circle cx="662.5" cy="99.9" r="3.25"/><circle cx="663.5" cy="101.2" r="3.25"/><circle cx="664.4" cy="100.5" r="3.25"/><circle cx="665.4" cy="105.7" r="3.25"/><circle cx="666.4" cy="98.1" r="3.25"/><circle cx="667.3" cy="100.8" r="3.25"/><circle cx="668.3" cy="104.8" r="3.25"/><circle cx="669.2" cy="109.9" r="3.25"/><circle cx="670.2" cy="108.3" r="3.25"/><circle cx="671.2" cy="105.7" r="3.25"/><circle cx="672.1" cy="110.1" r="3.25"/><circle cx="673.1" cy="95.9" r="3.25"/><circle cx="674.0" cy="106.6" r="3.25"/><circle cx="675.0" cy="104.4" r="3.25"/>
</g>
<polyline points="140.5,99.4 141.5,98.7 142.4,102.2 143.4,97.5 144.3,100.3 145.3,96.0 146.2,103.8 147.2,105.6 148.2,110.8 149.1,106.8 150.1,108.1 151.0,106.3 152.0,103.8 152.9,105.9 153.9,101.6 154.8,103.0 155.8,108.0 156.8,90.7 157.7,106.2 158.7,116.4 159.6,112.6 160.6,107.7 161.5,108.4 162.5,105.7 163.5,104.9 164.4,104.6 165.4,114.7 166.3,111.0 167.3,109.8 168.2,111.3 169.2,117.8 170.1,111.3 171.1,106.2 172.1,117.1 173.0,105.4 174.0,104.2 174.9,108.0 175.9,116.9 176.8,107.3 177.8,95.9 178.8,103.7 179.7,102.3 180.7,102.2 181.6,105.7 182.6,106.4 183.5,107.0 184.5,104.1 185.5,110.1 186.4,114.1 187.4,109.6 188.3,105.3 189.3,108.2 190.2,108.6 191.2,102.2 192.1,101.4 193.1,107.6 194.1,105.7 195.0,103.8 196.0,105.1 196.9,104.7 197.9,104.6 198.8,96.2 199.8,107.9 200.8,107.1 201.7,101.9 202.7,107.4 203.6,107.2 204.6,105.8 205.5,109.6 206.5,116.8 207.4,112.9 208.4,115.4 209.4,119.2 210.3,107.2 211.3,103.4 212.2,107.1 213.2,98.1 214.1,99.9 215.1,107.6 216.1,110.4 217.0,109.9 218.0,98.9 218.9,112.0 219.9,110.7 220.8,111.1 221.8,110.2 222.8,100.1 223.7,96.4 224.7,95.5 225.6,108.8 226.6,103.5 227.5,103.5 228.5,103.5 229.4,107.1 230.4,108.7 231.4,108.5 232.3,102.0 233.3,91.3 234.2,100.5 235.2,105.7 236.1,112.7 237.1,110.9 238.1,108.2 239.0,111.4 240.0,105.4 240.9,104.8 241.9,105.0 242.8,110.5 243.8,120.4 244.7,120.5 245.7,122.3 246.7,120.1 247.6,119.4 248.6,116.8 249.5,116.4 250.5,108.9 251.4,109.9 252.4,110.2 253.4,117.6 254.3,120.8 255.3,124.0 256.2,127.2 257.2,122.3 258.1,124.6 259.1,129.0 260.1,124.3 261.0,125.9 262.0,122.3 262.9,115.6 263.9,118.3 264.8,116.4 265.8,118.7 266.7,117.9 267.7,120.3 268.7,113.0 269.6,124.0 270.6,127.1 271.5,122.7 272.5,118.6 273.4,119.8 274.4,122.8 275.4,123.4 276.3,123.5 277.3,115.4 278.2,114.2 279.2,122.2 280.1,122.3 281.1,116.2 282.0,115.4 283.0,113.0 284.0,113.2 284.9,121.0 285.9,120.0 286.8,124.2 287.8,123.0 288.7,116.4 289.7,116.1 290.7,126.3 291.6,120.6 292.6,116.7 293.5,122.8 294.5,121.8 295.4,121.0 296.4,125.7 297.3,116.7 298.3,119.8 299.3,116.2 300.2,113.1 301.2,113.6 302.1,120.8 303.1,119.8 304.0,113.3 305.0,112.5 306.0,121.5 306.9,124.2 307.9,118.0 308.8,127.4 309.8,122.1 310.7,116.5 311.7,117.5 312.7,121.7 313.6,126.2 314.6,126.4 315.5,121.3 316.5,118.2 317.4,113.5 318.4,116.0 319.3,115.4 320.3,118.0 321.3,113.9 322.2,114.6 323.2,113.5 324.1,111.9 325.1,111.1 326.0,111.2 327.0,110.7 328.0,116.7 328.9,117.9 329.9,113.5 330.8,117.8 331.8,119.1 332.7,123.9 333.7,120.4 334.6,118.6 335.6,115.9 336.6,117.5 337.5,119.5 338.5,119.4 339.4,117.8 340.4,119.9 341.3,119.3 342.3,172.0 343.3,115.2 344.2,117.4 345.2,160.0 346.1,112.3 347.1,88.0 348.0,125.9 349.0,126.4 350.0,155.0 350.9,129.7 351.9,150.0 352.8,160.3 353.8,163.7 354.7,156.9 355.7,155.5 356.6,152.0 357.6,150.5 358.6,146.8 359.5,148.1 360.5,138.6 361.4,139.0 362.4,147.9 363.3,145.1 364.3,151.6 365.3,145.0 366.2,146.7 367.2,151.6 368.1,146.4 369.1,145.6 370.0,162.2 371.0,153.6 371.9,149.2 372.9,147.8 373.9,150.3 374.8,151.2 375.8,157.1 376.7,159.0 377.7,153.6 378.6,151.2 379.6,144.3 380.6,140.4 381.5,142.6 382.5,151.5 383.4,152.7 384.4,156.9 385.3,159.8 386.3,155.4 387.3,165.2 388.2,156.2 389.2,151.1 390.1,149.6 391.1,157.3 392.0,154.3 393.0,149.6 393.9,153.5 394.9,159.2 395.9,155.4 396.8,152.8 397.8,158.6 398.7,161.0 399.7,162.0 400.6,153.4 401.6,154.7 402.6,155.8 403.5,144.8 404.5,155.3 405.4,153.8 406.4,148.4 407.3,163.1 408.3,155.6 409.2,145.3 410.2,144.4 411.2,147.9 412.1,150.9 413.1,146.0 414.0,137.6 415.0,134.2 415.9,131.3 416.9,127.9 417.9,132.7 418.8,131.5 419.8,134.2 420.7,129.3 421.7,126.2 422.6,128.7 423.6,128.5 424.6,137.6 425.5,128.6 426.5,130.7 427.4,129.8 428.4,121.0 429.3,128.9 430.3,129.0 431.2,115.7 432.2,124.3 433.2,129.2 434.1,123.1 435.1,131.5 436.0,128.8 437.0,121.6 437.9,125.6 438.9,123.5 439.9,118.0 440.8,111.7 441.8,119.1 442.7,118.4 443.7,124.2 444.6,125.9 445.6,122.6 446.5,120.9 447.5,130.3 448.5,134.6 449.4,132.5 450.4,126.5 451.3,120.7 452.3,120.4 453.2,129.3 454.2,128.4 455.2,124.6 456.1,118.5 457.1,121.5 458.0,118.4 459.0,120.8 459.9,125.1 460.9,128.7 461.9,126.4 462.8,123.0 463.8,123.8 464.7,131.2 465.7,128.5 466.6,119.2 467.6,127.7 468.5,126.1 469.5,139.5 470.5,128.7 471.4,125.0 472.4,122.1 473.3,123.7 474.3,120.2 475.2,114.4 476.2,109.5 477.2,115.0 478.1,116.0 479.1,116.1 480.0,128.1 481.0,128.2 481.9,129.5 482.9,123.1 483.8,123.4 484.8,121.2 485.8,118.5 486.7,120.1 487.7,119.2 488.6,116.4 489.6,113.3 490.5,104.8 491.5,104.1 492.5,108.6 493.4,107.6 494.4,105.2 495.3,109.0 496.3,105.2 497.2,104.4 498.2,110.9 499.2,108.6 500.1,115.3 501.1,114.6 502.0,115.5 503.0,117.4 503.9,103.7 504.9,106.1 505.8,101.9 506.8,103.4 507.8,105.7 508.7,112.8 509.7,110.7 510.6,117.0 511.6,110.6 512.5,109.4 513.5,109.4 514.5,113.2 515.4,110.7 516.4,106.9 517.3,106.2 518.3,101.1 519.2,110.3 520.2,112.6 521.1,112.3 522.1,111.5 523.1,107.2 524.0,105.8 525.0,110.5 525.9,105.8 526.9,103.4 527.8,111.3 528.8,114.3 529.8,109.5 530.7,107.4 531.7,104.0 532.6,108.0 533.6,102.1 534.5,101.4 535.5,102.8 536.4,107.8 537.4,102.8 538.4,102.4 539.3,99.1 540.3,96.6 541.2,95.4 542.2,98.1 543.1,102.9 544.1,98.4 545.1,96.6 546.0,96.5 547.0,99.8 547.9,103.0 548.9,96.0 549.8,99.6 550.8,95.4 551.8,100.8 552.7,96.2 553.7,93.4 554.6,93.6 555.6,96.5 556.5,93.9 557.5,97.9 558.4,99.6 559.4,100.2 560.4,101.3 561.3,104.5 562.3,99.0 563.2,99.5 564.2,99.6 565.1,90.8 566.1,97.1 567.1,95.2 568.0,94.5 569.0,95.3 569.9,98.1 570.9,100.5 571.8,102.4 572.8,98.1 573.7,102.1 574.7,102.9 575.7,99.7 576.6,99.8 577.6,103.4 578.5,103.6 579.5,104.8 580.4,102.9 581.4,106.4 582.4,112.9 583.3,108.4 584.3,97.2 585.2,106.1 586.2,100.6 587.1,94.3 588.1,86.8 589.1,95.4 590.0,105.8 591.0,112.1 591.9,110.9 592.9,116.9 593.8,113.1 594.8,109.0 595.7,109.8 596.7,110.8 597.7,110.6 598.6,112.1 599.6,101.5 600.5,112.6 601.5,108.8 602.4,112.2 603.4,107.6 604.4,109.5 605.3,109.0 606.3,102.6 607.2,108.0 608.2,111.8 609.1,106.0 610.1,98.9 611.0,101.6 612.0,102.2 613.0,106.6 613.9,108.2 614.9,116.1 615.8,115.9 616.8,111.8 617.7,111.6 618.7,96.2 619.7,95.2 620.6,93.2 621.6,94.4 622.5,96.9 623.5,98.3 624.4,102.2 625.4,97.0 626.4,98.8 627.3,97.7 628.3,97.8 629.2,99.2 630.2,97.2 631.1,98.4 632.1,97.9 633.0,102.2 634.0,99.4 635.0,99.8 635.9,110.0 636.9,106.5 637.8,104.2 638.8,105.5 639.7,97.1 640.7,100.4 641.7,102.1 642.6,101.7 643.6,103.7 644.5,103.9 645.5,105.8 646.4,98.7 647.4,99.9 648.3,96.2 649.3,102.0 650.3,100.2 651.2,93.0 652.2,95.5 653.1,91.9 654.1,98.7 655.0,96.4 656.0,87.2" fill="none" stroke="#5b94dc" stroke-width="1.2" stroke-linejoin="round"/>
<g fill="url(#gc)" stroke="none" stroke-width="0.7">
<circle cx="140.5" cy="99.4" r="3.25"/><circle cx="141.5" cy="98.7" r="3.25"/><circle cx="142.4" cy="102.2" r="3.25"/><circle cx="143.4" cy="97.5" r="3.25"/><circle cx="144.3" cy="100.3" r="3.25"/><circle cx="145.3" cy="96.0" r="3.25"/><circle cx="146.2" cy="103.8" r="3.25"/><circle cx="147.2" cy="105.6" r="3.25"/><circle cx="148.2" cy="110.8" r="3.25"/><circle cx="149.1" cy="106.8" r="3.25"/><circle cx="150.1" cy="108.1" r="3.25"/><circle cx="151.0" cy="106.3" r="3.25"/><circle cx="152.0" cy="103.8" r="3.25"/><circle cx="152.9" cy="105.9" r="3.25"/><circle cx="153.9" cy="101.6" r="3.25"/><circle cx="154.8" cy="103.0" r="3.25"/><circle cx="155.8" cy="108.0" r="3.25"/><circle cx="156.8" cy="90.7" r="3.25"/><circle cx="157.7" cy="106.2" r="3.25"/><circle cx="158.7" cy="116.4" r="3.25"/><circle cx="159.6" cy="112.6" r="3.25"/><circle cx="160.6" cy="107.7" r="3.25"/><circle cx="161.5" cy="108.4" r="3.25"/><circle cx="162.5" cy="105.7" r="3.25"/><circle cx="163.5" cy="104.9" r="3.25"/><circle cx="164.4" cy="104.6" r="3.25"/><circle cx="165.4" cy="114.7" r="3.25"/><circle cx="166.3" cy="111.0" r="3.25"/><circle cx="167.3" cy="109.8" r="3.25"/><circle cx="168.2" cy="111.3" r="3.25"/><circle cx="169.2" cy="117.8" r="3.25"/><circle cx="170.1" cy="111.3" r="3.25"/><circle cx="171.1" cy="106.2" r="3.25"/><circle cx="172.1" cy="117.1" r="3.25"/><circle cx="173.0" cy="105.4" r="3.25"/><circle cx="174.0" cy="104.2" r="3.25"/><circle cx="174.9" cy="108.0" r="3.25"/><circle cx="175.9" cy="116.9" r="3.25"/><circle cx="176.8" cy="107.3" r="3.25"/><circle cx="177.8" cy="95.9" r="3.25"/><circle cx="178.8" cy="103.7" r="3.25"/><circle cx="179.7" cy="102.3" r="3.25"/><circle cx="180.7" cy="102.2" r="3.25"/><circle cx="181.6" cy="105.7" r="3.25"/><circle cx="182.6" cy="106.4" r="3.25"/><circle cx="183.5" cy="107.0" r="3.25"/><circle cx="184.5" cy="104.1" r="3.25"/><circle cx="185.5" cy="110.1" r="3.25"/><circle cx="186.4" cy="114.1" r="3.25"/><circle cx="187.4" cy="109.6" r="3.25"/><circle cx="188.3" cy="105.3" r="3.25"/><circle cx="189.3" cy="108.2" r="3.25"/><circle cx="190.2" cy="108.6" r="3.25"/><circle cx="191.2" cy="102.2" r="3.25"/><circle cx="192.1" cy="101.4" r="3.25"/><circle cx="193.1" cy="107.6" r="3.25"/><circle cx="194.1" cy="105.7" r="3.25"/><circle cx="195.0" cy="103.8" r="3.25"/><circle cx="196.0" cy="105.1" r="3.25"/><circle cx="196.9" cy="104.7" r="3.25"/><circle cx="197.9" cy="104.6" r="3.25"/><circle cx="198.8" cy="96.2" r="3.25"/><circle cx="199.8" cy="107.9" r="3.25"/><circle cx="200.8" cy="107.1" r="3.25"/><circle cx="201.7" cy="101.9" r="3.25"/><circle cx="202.7" cy="107.4" r="3.25"/><circle cx="203.6" cy="107.2" r="3.25"/><circle cx="204.6" cy="105.8" r="3.25"/><circle cx="205.5" cy="109.6" r="3.25"/><circle cx="206.5" cy="116.8" r="3.25"/><circle cx="207.4" cy="112.9" r="3.25"/><circle cx="208.4" cy="115.4" r="3.25"/><circle cx="209.4" cy="119.2" r="3.25"/><circle cx="210.3" cy="107.2" r="3.25"/><circle cx="211.3" cy="103.4" r="3.25"/><circle cx="212.2" cy="107.1" r="3.25"/><circle cx="213.2" cy="98.1" r="3.25"/><circle cx="214.1" cy="99.9" r="3.25"/><circle cx="215.1" cy="107.6" r="3.25"/><circle cx="216.1" cy="110.4" r="3.25"/><circle cx="217.0" cy="109.9" r="3.25"/><circle cx="218.0" cy="98.9" r="3.25"/><circle cx="218.9" cy="112.0" r="3.25"/><circle cx="219.9" cy="110.7" r="3.25"/><circle cx="220.8" cy="111.1" r="3.25"/><circle cx="221.8" cy="110.2" r="3.25"/><circle cx="222.8" cy="100.1" r="3.25"/><circle cx="223.7" cy="96.4" r="3.25"/><circle cx="224.7" cy="95.5" r="3.25"/><circle cx="225.6" cy="108.8" r="3.25"/><circle cx="226.6" cy="103.5" r="3.25"/><circle cx="227.5" cy="103.5" r="3.25"/><circle cx="228.5" cy="103.5" r="3.25"/><circle cx="229.4" cy="107.1" r="3.25"/><circle cx="230.4" cy="108.7" r="3.25"/><circle cx="231.4" cy="108.5" r="3.25"/><circle cx="232.3" cy="102.0" r="3.25"/><circle cx="233.3" cy="91.3" r="3.25"/><circle cx="234.2" cy="100.5" r="3.25"/><circle cx="235.2" cy="105.7" r="3.25"/><circle cx="236.1" cy="112.7" r="3.25"/><circle cx="237.1" cy="110.9" r="3.25"/><circle cx="238.1" cy="108.2" r="3.25"/><circle cx="239.0" cy="111.4" r="3.25"/><circle cx="240.0" cy="105.4" r="3.25"/><circle cx="240.9" cy="104.8" r="3.25"/><circle cx="241.9" cy="105.0" r="3.25"/><circle cx="242.8" cy="110.5" r="3.25"/><circle cx="243.8" cy="120.4" r="3.25"/><circle cx="244.7" cy="120.5" r="3.25"/><circle cx="245.7" cy="122.3" r="3.25"/><circle cx="246.7" cy="120.1" r="3.25"/><circle cx="247.6" cy="119.4" r="3.25"/><circle cx="248.6" cy="116.8" r="3.25"/><circle cx="249.5" cy="116.4" r="3.25"/><circle cx="250.5" cy="108.9" r="3.25"/><circle cx="251.4" cy="109.9" r="3.25"/><circle cx="252.4" cy="110.2" r="3.25"/><circle cx="253.4" cy="117.6" r="3.25"/><circle cx="254.3" cy="120.8" r="3.25"/><circle cx="255.3" cy="124.0" r="3.25"/><circle cx="256.2" cy="127.2" r="3.25"/><circle cx="257.2" cy="122.3" r="3.25"/><circle cx="258.1" cy="124.6" r="3.25"/><circle cx="259.1" cy="129.0" r="3.25"/><circle cx="260.1" cy="124.3" r="3.25"/><circle cx="261.0" cy="125.9" r="3.25"/><circle cx="262.0" cy="122.3" r="3.25"/><circle cx="262.9" cy="115.6" r="3.25"/><circle cx="263.9" cy="118.3" r="3.25"/><circle cx="264.8" cy="116.4" r="3.25"/><circle cx="265.8" cy="118.7" r="3.25"/><circle cx="266.7" cy="117.9" r="3.25"/><circle cx="267.7" cy="120.3" r="3.25"/><circle cx="268.7" cy="113.0" r="3.25"/><circle cx="269.6" cy="124.0" r="3.25"/><circle cx="270.6" cy="127.1" r="3.25"/><circle cx="271.5" cy="122.7" r="3.25"/><circle cx="272.5" cy="118.6" r="3.25"/><circle cx="273.4" cy="119.8" r="3.25"/><circle cx="274.4" cy="122.8" r="3.25"/><circle cx="275.4" cy="123.4" r="3.25"/><circle cx="276.3" cy="123.5" r="3.25"/><circle cx="277.3" cy="115.4" r="3.25"/><circle cx="278.2" cy="114.2" r="3.25"/><circle cx="279.2" cy="122.2" r="3.25"/><circle cx="280.1" cy="122.3" r="3.25"/><circle cx="281.1" cy="116.2" r="3.25"/><circle cx="282.0" cy="115.4" r="3.25"/><circle cx="283.0" cy="113.0" r="3.25"/><circle cx="284.0" cy="113.2" r="3.25"/><circle cx="284.9" cy="121.0" r="3.25"/><circle cx="285.9" cy="120.0" r="3.25"/><circle cx="286.8" cy="124.2" r="3.25"/><circle cx="287.8" cy="123.0" r="3.25"/><circle cx="288.7" cy="116.4" r="3.25"/><circle cx="289.7" cy="116.1" r="3.25"/><circle cx="290.7" cy="126.3" r="3.25"/><circle cx="291.6" cy="120.6" r="3.25"/><circle cx="292.6" cy="116.7" r="3.25"/><circle cx="293.5" cy="122.8" r="3.25"/><circle cx="294.5" cy="121.8" r="3.25"/><circle cx="295.4" cy="121.0" r="3.25"/><circle cx="296.4" cy="125.7" r="3.25"/><circle cx="297.3" cy="116.7" r="3.25"/><circle cx="298.3" cy="119.8" r="3.25"/><circle cx="299.3" cy="116.2" r="3.25"/><circle cx="300.2" cy="113.1" r="3.25"/><circle cx="301.2" cy="113.6" r="3.25"/><circle cx="302.1" cy="120.8" r="3.25"/><circle cx="303.1" cy="119.8" r="3.25"/><circle cx="304.0" cy="113.3" r="3.25"/><circle cx="305.0" cy="112.5" r="3.25"/><circle cx="306.0" cy="121.5" r="3.25"/><circle cx="306.9" cy="124.2" r="3.25"/><circle cx="307.9" cy="118.0" r="3.25"/><circle cx="308.8" cy="127.4" r="3.25"/><circle cx="309.8" cy="122.1" r="3.25"/><circle cx="310.7" cy="116.5" r="3.25"/><circle cx="311.7" cy="117.5" r="3.25"/><circle cx="312.7" cy="121.7" r="3.25"/><circle cx="313.6" cy="126.2" r="3.25"/><circle cx="314.6" cy="126.4" r="3.25"/><circle cx="315.5" cy="121.3" r="3.25"/><circle cx="316.5" cy="118.2" r="3.25"/><circle cx="317.4" cy="113.5" r="3.25"/><circle cx="318.4" cy="116.0" r="3.25"/><circle cx="319.3" cy="115.4" r="3.25"/><circle cx="320.3" cy="118.0" r="3.25"/><circle cx="321.3" cy="113.9" r="3.25"/><circle cx="322.2" cy="114.6" r="3.25"/><circle cx="323.2" cy="113.5" r="3.25"/><circle cx="324.1" cy="111.9" r="3.25"/><circle cx="325.1" cy="111.1" r="3.25"/><circle cx="326.0" cy="111.2" r="3.25"/><circle cx="327.0" cy="110.7" r="3.25"/><circle cx="328.0" cy="116.7" r="3.25"/><circle cx="328.9" cy="117.9" r="3.25"/><circle cx="329.9" cy="113.5" r="3.25"/><circle cx="330.8" cy="117.8" r="3.25"/><circle cx="331.8" cy="119.1" r="3.25"/><circle cx="332.7" cy="123.9" r="3.25"/><circle cx="333.7" cy="120.4" r="3.25"/><circle cx="334.6" cy="118.6" r="3.25"/><circle cx="335.6" cy="115.9" r="3.25"/><circle cx="336.6" cy="117.5" r="3.25"/><circle cx="337.5" cy="119.5" r="3.25"/><circle cx="338.5" cy="119.4" r="3.25"/><circle cx="339.4" cy="117.8" r="3.25"/><circle cx="340.4" cy="119.9" r="3.25"/><circle cx="341.3" cy="119.3" r="3.25"/><circle cx="342.3" cy="172.0" r="3.25"/><circle cx="343.3" cy="115.2" r="3.25"/><circle cx="344.2" cy="117.4" r="3.25"/><circle cx="345.2" cy="160.0" r="3.25"/><circle cx="346.1" cy="112.3" r="3.25"/><circle cx="347.1" cy="88.0" r="3.25"/><circle cx="348.0" cy="125.9" r="3.25"/><circle cx="349.0" cy="126.4" r="3.25"/><circle cx="350.0" cy="155.0" r="3.25"/><circle cx="350.9" cy="129.7" r="3.25"/><circle cx="351.9" cy="150.0" r="3.25"/><circle cx="352.8" cy="160.3" r="3.25"/><circle cx="353.8" cy="163.7" r="3.25"/><circle cx="354.7" cy="156.9" r="3.25"/><circle cx="355.7" cy="155.5" r="3.25"/><circle cx="356.6" cy="152.0" r="3.25"/><circle cx="357.6" cy="150.5" r="3.25"/><circle cx="358.6" cy="146.8" r="3.25"/><circle cx="359.5" cy="148.1" r="3.25"/><circle cx="360.5" cy="138.6" r="3.25"/><circle cx="361.4" cy="139.0" r="3.25"/><circle cx="362.4" cy="147.9" r="3.25"/><circle cx="363.3" cy="145.1" r="3.25"/><circle cx="364.3" cy="151.6" r="3.25"/><circle cx="365.3" cy="145.0" r="3.25"/><circle cx="366.2" cy="146.7" r="3.25"/><circle cx="367.2" cy="151.6" r="3.25"/><circle cx="368.1" cy="146.4" r="3.25"/><circle cx="369.1" cy="145.6" r="3.25"/><circle cx="370.0" cy="162.2" r="3.25"/><circle cx="371.0" cy="153.6" r="3.25"/><circle cx="371.9" cy="149.2" r="3.25"/><circle cx="372.9" cy="147.8" r="3.25"/><circle cx="373.9" cy="150.3" r="3.25"/><circle cx="374.8" cy="151.2" r="3.25"/><circle cx="375.8" cy="157.1" r="3.25"/><circle cx="376.7" cy="159.0" r="3.25"/><circle cx="377.7" cy="153.6" r="3.25"/><circle cx="378.6" cy="151.2" r="3.25"/><circle cx="379.6" cy="144.3" r="3.25"/><circle cx="380.6" cy="140.4" r="3.25"/><circle cx="381.5" cy="142.6" r="3.25"/><circle cx="382.5" cy="151.5" r="3.25"/><circle cx="383.4" cy="152.7" r="3.25"/><circle cx="384.4" cy="156.9" r="3.25"/><circle cx="385.3" cy="159.8" r="3.25"/><circle cx="386.3" cy="155.4" r="3.25"/><circle cx="387.3" cy="165.2" r="3.25"/><circle cx="388.2" cy="156.2" r="3.25"/><circle cx="389.2" cy="151.1" r="3.25"/><circle cx="390.1" cy="149.6" r="3.25"/><circle cx="391.1" cy="157.3" r="3.25"/><circle cx="392.0" cy="154.3" r="3.25"/><circle cx="393.0" cy="149.6" r="3.25"/><circle cx="393.9" cy="153.5" r="3.25"/><circle cx="394.9" cy="159.2" r="3.25"/><circle cx="395.9" cy="155.4" r="3.25"/><circle cx="396.8" cy="152.8" r="3.25"/><circle cx="397.8" cy="158.6" r="3.25"/><circle cx="398.7" cy="161.0" r="3.25"/><circle cx="399.7" cy="162.0" r="3.25"/><circle cx="400.6" cy="153.4" r="3.25"/><circle cx="401.6" cy="154.7" r="3.25"/><circle cx="402.6" cy="155.8" r="3.25"/><circle cx="403.5" cy="144.8" r="3.25"/><circle cx="404.5" cy="155.3" r="3.25"/><circle cx="405.4" cy="153.8" r="3.25"/><circle cx="406.4" cy="148.4" r="3.25"/><circle cx="407.3" cy="163.1" r="3.25"/><circle cx="408.3" cy="155.6" r="3.25"/><circle cx="409.2" cy="145.3" r="3.25"/><circle cx="410.2" cy="144.4" r="3.25"/><circle cx="411.2" cy="147.9" r="3.25"/><circle cx="412.1" cy="150.9" r="3.25"/><circle cx="413.1" cy="146.0" r="3.25"/><circle cx="414.0" cy="137.6" r="3.25"/><circle cx="415.0" cy="134.2" r="3.25"/><circle cx="415.9" cy="131.3" r="3.25"/><circle cx="416.9" cy="127.9" r="3.25"/><circle cx="417.9" cy="132.7" r="3.25"/><circle cx="418.8" cy="131.5" r="3.25"/><circle cx="419.8" cy="134.2" r="3.25"/><circle cx="420.7" cy="129.3" r="3.25"/><circle cx="421.7" cy="126.2" r="3.25"/><circle cx="422.6" cy="128.7" r="3.25"/><circle cx="423.6" cy="128.5" r="3.25"/><circle cx="424.6" cy="137.6" r="3.25"/><circle cx="425.5" cy="128.6" r="3.25"/><circle cx="426.5" cy="130.7" r="3.25"/><circle cx="427.4" cy="129.8" r="3.25"/><circle cx="428.4" cy="121.0" r="3.25"/><circle cx="429.3" cy="128.9" r="3.25"/><circle cx="430.3" cy="129.0" r="3.25"/><circle cx="431.2" cy="115.7" r="3.25"/><circle cx="432.2" cy="124.3" r="3.25"/><circle cx="433.2" cy="129.2" r="3.25"/><circle cx="434.1" cy="123.1" r="3.25"/><circle cx="435.1" cy="131.5" r="3.25"/><circle cx="436.0" cy="128.8" r="3.25"/><circle cx="437.0" cy="121.6" r="3.25"/><circle cx="437.9" cy="125.6" r="3.25"/><circle cx="438.9" cy="123.5" r="3.25"/><circle cx="439.9" cy="118.0" r="3.25"/><circle cx="440.8" cy="111.7" r="3.25"/><circle cx="441.8" cy="119.1" r="3.25"/><circle cx="442.7" cy="118.4" r="3.25"/><circle cx="443.7" cy="124.2" r="3.25"/><circle cx="444.6" cy="125.9" r="3.25"/><circle cx="445.6" cy="122.6" r="3.25"/><circle cx="446.5" cy="120.9" r="3.25"/><circle cx="447.5" cy="130.3" r="3.25"/><circle cx="448.5" cy="134.6" r="3.25"/><circle cx="449.4" cy="132.5" r="3.25"/><circle cx="450.4" cy="126.5" r="3.25"/><circle cx="451.3" cy="120.7" r="3.25"/><circle cx="452.3" cy="120.4" r="3.25"/><circle cx="453.2" cy="129.3" r="3.25"/><circle cx="454.2" cy="128.4" r="3.25"/><circle cx="455.2" cy="124.6" r="3.25"/><circle cx="456.1" cy="118.5" r="3.25"/><circle cx="457.1" cy="121.5" r="3.25"/><circle cx="458.0" cy="118.4" r="3.25"/><circle cx="459.0" cy="120.8" r="3.25"/><circle cx="459.9" cy="125.1" r="3.25"/><circle cx="460.9" cy="128.7" r="3.25"/><circle cx="461.9" cy="126.4" r="3.25"/><circle cx="462.8" cy="123.0" r="3.25"/><circle cx="463.8" cy="123.8" r="3.25"/><circle cx="464.7" cy="131.2" r="3.25"/><circle cx="465.7" cy="128.5" r="3.25"/><circle cx="466.6" cy="119.2" r="3.25"/><circle cx="467.6" cy="127.7" r="3.25"/><circle cx="468.5" cy="126.1" r="3.25"/><circle cx="469.5" cy="139.5" r="3.25"/><circle cx="470.5" cy="128.7" r="3.25"/><circle cx="471.4" cy="125.0" r="3.25"/><circle cx="472.4" cy="122.1" r="3.25"/><circle cx="473.3" cy="123.7" r="3.25"/><circle cx="474.3" cy="120.2" r="3.25"/><circle cx="475.2" cy="114.4" r="3.25"/><circle cx="476.2" cy="109.5" r="3.25"/><circle cx="477.2" cy="115.0" r="3.25"/><circle cx="478.1" cy="116.0" r="3.25"/><circle cx="479.1" cy="116.1" r="3.25"/><circle cx="480.0" cy="128.1" r="3.25"/><circle cx="481.0" cy="128.2" r="3.25"/><circle cx="481.9" cy="129.5" r="3.25"/><circle cx="482.9" cy="123.1" r="3.25"/><circle cx="483.8" cy="123.4" r="3.25"/><circle cx="484.8" cy="121.2" r="3.25"/><circle cx="485.8" cy="118.5" r="3.25"/><circle cx="486.7" cy="120.1" r="3.25"/><circle cx="487.7" cy="119.2" r="3.25"/><circle cx="488.6" cy="116.4" r="3.25"/><circle cx="489.6" cy="113.3" r="3.25"/><circle cx="490.5" cy="104.8" r="3.25"/><circle cx="491.5" cy="104.1" r="3.25"/><circle cx="492.5" cy="108.6" r="3.25"/><circle cx="493.4" cy="107.6" r="3.25"/><circle cx="494.4" cy="105.2" r="3.25"/><circle cx="495.3" cy="109.0" r="3.25"/><circle cx="496.3" cy="105.2" r="3.25"/><circle cx="497.2" cy="104.4" r="3.25"/><circle cx="498.2" cy="110.9" r="3.25"/><circle cx="499.2" cy="108.6" r="3.25"/><circle cx="500.1" cy="115.3" r="3.25"/><circle cx="501.1" cy="114.6" r="3.25"/><circle cx="502.0" cy="115.5" r="3.25"/><circle cx="503.0" cy="117.4" r="3.25"/><circle cx="503.9" cy="103.7" r="3.25"/><circle cx="504.9" cy="106.1" r="3.25"/><circle cx="505.8" cy="101.9" r="3.25"/><circle cx="506.8" cy="103.4" r="3.25"/><circle cx="507.8" cy="105.7" r="3.25"/><circle cx="508.7" cy="112.8" r="3.25"/><circle cx="509.7" cy="110.7" r="3.25"/><circle cx="510.6" cy="117.0" r="3.25"/><circle cx="511.6" cy="110.6" r="3.25"/><circle cx="512.5" cy="109.4" r="3.25"/><circle cx="513.5" cy="109.4" r="3.25"/><circle cx="514.5" cy="113.2" r="3.25"/><circle cx="515.4" cy="110.7" r="3.25"/><circle cx="516.4" cy="106.9" r="3.25"/><circle cx="517.3" cy="106.2" r="3.25"/><circle cx="518.3" cy="101.1" r="3.25"/><circle cx="519.2" cy="110.3" r="3.25"/><circle cx="520.2" cy="112.6" r="3.25"/><circle cx="521.1" cy="112.3" r="3.25"/><circle cx="522.1" cy="111.5" r="3.25"/><circle cx="523.1" cy="107.2" r="3.25"/><circle cx="524.0" cy="105.8" r="3.25"/><circle cx="525.0" cy="110.5" r="3.25"/><circle cx="525.9" cy="105.8" r="3.25"/><circle cx="526.9" cy="103.4" r="3.25"/><circle cx="527.8" cy="111.3" r="3.25"/><circle cx="528.8" cy="114.3" r="3.25"/><circle cx="529.8" cy="109.5" r="3.25"/><circle cx="530.7" cy="107.4" r="3.25"/><circle cx="531.7" cy="104.0" r="3.25"/><circle cx="532.6" cy="108.0" r="3.25"/><circle cx="533.6" cy="102.1" r="3.25"/><circle cx="534.5" cy="101.4" r="3.25"/><circle cx="535.5" cy="102.8" r="3.25"/><circle cx="536.4" cy="107.8" r="3.25"/><circle cx="537.4" cy="102.8" r="3.25"/><circle cx="538.4" cy="102.4" r="3.25"/><circle cx="539.3" cy="99.1" r="3.25"/><circle cx="540.3" cy="96.6" r="3.25"/><circle cx="541.2" cy="95.4" r="3.25"/><circle cx="542.2" cy="98.1" r="3.25"/><circle cx="543.1" cy="102.9" r="3.25"/><circle cx="544.1" cy="98.4" r="3.25"/><circle cx="545.1" cy="96.6" r="3.25"/><circle cx="546.0" cy="96.5" r="3.25"/><circle cx="547.0" cy="99.8" r="3.25"/><circle cx="547.9" cy="103.0" r="3.25"/><circle cx="548.9" cy="96.0" r="3.25"/><circle cx="549.8" cy="99.6" r="3.25"/><circle cx="550.8" cy="95.4" r="3.25"/><circle cx="551.8" cy="100.8" r="3.25"/><circle cx="552.7" cy="96.2" r="3.25"/><circle cx="553.7" cy="93.4" r="3.25"/><circle cx="554.6" cy="93.6" r="3.25"/><circle cx="555.6" cy="96.5" r="3.25"/><circle cx="556.5" cy="93.9" r="3.25"/><circle cx="557.5" cy="97.9" r="3.25"/><circle cx="558.4" cy="99.6" r="3.25"/><circle cx="559.4" cy="100.2" r="3.25"/><circle cx="560.4" cy="101.3" r="3.25"/><circle cx="561.3" cy="104.5" r="3.25"/><circle cx="562.3" cy="99.0" r="3.25"/><circle cx="563.2" cy="99.5" r="3.25"/><circle cx="564.2" cy="99.6" r="3.25"/><circle cx="565.1" cy="90.8" r="3.25"/><circle cx="566.1" cy="97.1" r="3.25"/><circle cx="567.1" cy="95.2" r="3.25"/><circle cx="568.0" cy="94.5" r="3.25"/><circle cx="569.0" cy="95.3" r="3.25"/><circle cx="569.9" cy="98.1" r="3.25"/><circle cx="570.9" cy="100.5" r="3.25"/><circle cx="571.8" cy="102.4" r="3.25"/><circle cx="572.8" cy="98.1" r="3.25"/><circle cx="573.7" cy="102.1" r="3.25"/><circle cx="574.7" cy="102.9" r="3.25"/><circle cx="575.7" cy="99.7" r="3.25"/><circle cx="576.6" cy="99.8" r="3.25"/><circle cx="577.6" cy="103.4" r="3.25"/><circle cx="578.5" cy="103.6" r="3.25"/><circle cx="579.5" cy="104.8" r="3.25"/><circle cx="580.4" cy="102.9" r="3.25"/><circle cx="581.4" cy="106.4" r="3.25"/><circle cx="582.4" cy="112.9" r="3.25"/><circle cx="583.3" cy="108.4" r="3.25"/><circle cx="584.3" cy="97.2" r="3.25"/><circle cx="585.2" cy="106.1" r="3.25"/><circle cx="586.2" cy="100.6" r="3.25"/><circle cx="587.1" cy="94.3" r="3.25"/><circle cx="588.1" cy="86.8" r="3.25"/><circle cx="589.1" cy="95.4" r="3.25"/><circle cx="590.0" cy="105.8" r="3.25"/><circle cx="591.0" cy="112.1" r="3.25"/><circle cx="591.9" cy="110.9" r="3.25"/><circle cx="592.9" cy="116.9" r="3.25"/><circle cx="593.8" cy="113.1" r="3.25"/><circle cx="594.8" cy="109.0" r="3.25"/><circle cx="595.7" cy="109.8" r="3.25"/><circle cx="596.7" cy="110.8" r="3.25"/><circle cx="597.7" cy="110.6" r="3.25"/><circle cx="598.6" cy="112.1" r="3.25"/><circle cx="599.6" cy="101.5" r="3.25"/><circle cx="600.5" cy="112.6" r="3.25"/><circle cx="601.5" cy="108.8" r="3.25"/><circle cx="602.4" cy="112.2" r="3.25"/><circle cx="603.4" cy="107.6" r="3.25"/><circle cx="604.4" cy="109.5" r="3.25"/><circle cx="605.3" cy="109.0" r="3.25"/><circle cx="606.3" cy="102.6" r="3.25"/><circle cx="607.2" cy="108.0" r="3.25"/><circle cx="608.2" cy="111.8" r="3.25"/><circle cx="609.1" cy="106.0" r="3.25"/><circle cx="610.1" cy="98.9" r="3.25"/><circle cx="611.0" cy="101.6" r="3.25"/><circle cx="612.0" cy="102.2" r="3.25"/><circle cx="613.0" cy="106.6" r="3.25"/><circle cx="613.9" cy="108.2" r="3.25"/><circle cx="614.9" cy="116.1" r="3.25"/><circle cx="615.8" cy="115.9" r="3.25"/><circle cx="616.8" cy="111.8" r="3.25"/><circle cx="617.7" cy="111.6" r="3.25"/><circle cx="618.7" cy="96.2" r="3.25"/><circle cx="619.7" cy="95.2" r="3.25"/><circle cx="620.6" cy="93.2" r="3.25"/><circle cx="621.6" cy="94.4" r="3.25"/><circle cx="622.5" cy="96.9" r="3.25"/><circle cx="623.5" cy="98.3" r="3.25"/><circle cx="624.4" cy="102.2" r="3.25"/><circle cx="625.4" cy="97.0" r="3.25"/><circle cx="626.4" cy="98.8" r="3.25"/><circle cx="627.3" cy="97.7" r="3.25"/><circle cx="628.3" cy="97.8" r="3.25"/><circle cx="629.2" cy="99.2" r="3.25"/><circle cx="630.2" cy="97.2" r="3.25"/><circle cx="631.1" cy="98.4" r="3.25"/><circle cx="632.1" cy="97.9" r="3.25"/><circle cx="633.0" cy="102.2" r="3.25"/><circle cx="634.0" cy="99.4" r="3.25"/><circle cx="635.0" cy="99.8" r="3.25"/><circle cx="635.9" cy="110.0" r="3.25"/><circle cx="636.9" cy="106.5" r="3.25"/><circle cx="637.8" cy="104.2" r="3.25"/><circle cx="638.8" cy="105.5" r="3.25"/><circle cx="639.7" cy="97.1" r="3.25"/><circle cx="640.7" cy="100.4" r="3.25"/><circle cx="641.7" cy="102.1" r="3.25"/><circle cx="642.6" cy="101.7" r="3.25"/><circle cx="643.6" cy="103.7" r="3.25"/><circle cx="644.5" cy="103.9" r="3.25"/><circle cx="645.5" cy="105.8" r="3.25"/><circle cx="646.4" cy="98.7" r="3.25"/><circle cx="647.4" cy="99.9" r="3.25"/><circle cx="648.3" cy="96.2" r="3.25"/><circle cx="649.3" cy="102.0" r="3.25"/><circle cx="650.3" cy="100.2" r="3.25"/><circle cx="651.2" cy="93.0" r="3.25"/><circle cx="652.2" cy="95.5" r="3.25"/><circle cx="653.1" cy="91.9" r="3.25"/><circle cx="654.1" cy="98.7" r="3.25"/><circle cx="655.0" cy="96.4" r="3.25"/><circle cx="656.0" cy="87.2" r="3.25"/>
</g>
<polyline points="102.5,130.0 103.5,205.0 104.4,183.6 105.4,155.0 106.3,161.0 107.3,185.9 108.2,185.5 109.2,182.7 110.1,175.7 111.1,176.5 112.1,184.2 113.0,184.4 114.0,181.5 114.9,176.3 115.9,178.7 116.8,177.3 117.8,179.8 118.8,183.4 119.7,170.9 120.7,176.0 121.6,171.4 122.6,171.9 123.5,170.5 124.5,182.0 125.4,185.5 126.4,186.3 127.4,180.3 128.3,173.7 129.3,175.9 130.2,180.0 131.2,180.6 132.1,184.9 133.1,181.6 134.1,191.1 135.0,190.0 136.0,196.3 136.9,190.4 137.9,185.0 138.8,179.1 139.8,184.7 140.7,188.8 141.7,186.2 142.7,186.2 143.6,182.7 144.6,180.2 145.5,179.6 146.5,171.0 147.4,171.2 148.4,176.8 149.4,180.1 150.3,186.7 151.3,187.6 152.2,187.0 153.2,184.7 154.1,171.6 155.1,177.0 156.0,174.9 157.0,181.0 158.0,180.0 158.9,179.2 159.9,177.8 160.8,178.4 161.8,170.0 162.7,167.7 163.7,181.1 164.7,183.8 165.6,180.6 166.6,179.4 167.5,178.8 168.5,197.2 169.4,192.3 170.4,187.1 171.3,181.0 172.3,169.2 173.3,176.2 174.2,186.2 175.2,188.9 176.1,186.8 177.1,181.2 178.0,175.4 179.0,179.0 179.9,178.3 180.9,174.2 181.9,186.6 182.8,179.4 183.8,177.8 184.7,167.4 185.7,183.5 186.6,176.7 187.6,168.6 188.6,162.9 189.5,153.5 190.5,151.9 191.4,156.7 192.4,152.3 193.3,157.0 194.3,164.8 195.2,165.9 196.2,170.5 197.2,170.7 198.1,174.8 199.1,168.1 200.0,165.6 201.0,155.1 201.9,155.4 202.9,152.2 203.9,154.6 204.8,149.9 205.8,155.8 206.7,129.0 207.7,160.5 208.6,162.7 209.6,164.1 210.5,156.5 211.5,155.4 212.5,153.5 213.4,158.3 214.4,154.2 215.3,171.9 216.3,170.1 217.2,171.0 218.2,177.2 219.2,175.8 220.1,166.7 221.1,165.0 222.0,162.4 223.0,162.4 223.9,166.3 224.9,152.8 225.8,146.9 226.8,150.6 227.8,156.3 228.7,153.7 229.7,153.7 230.6,160.7 231.6,161.6 232.5,157.1 233.5,153.2 234.5,144.0 235.4,151.1 236.4,152.5 237.3,146.6 238.3,152.5 239.2,150.1 240.2,149.1 241.1,140.5 242.1,151.6 243.1,147.1 244.0,151.2 245.0,152.8 245.9,148.7 246.9,149.7 247.8,149.0 248.8,148.6 249.8,151.0 250.7,147.1 251.7,153.1 252.6,152.6 253.6,144.5 254.5,150.0 255.5,147.8 256.4,151.9 257.4,136.9 258.4,145.6 259.3,134.2 260.3,139.4 261.2,164.2 262.2,161.2 263.1,162.2 264.1,151.9 265.0,144.3 266.0,146.9 267.0,151.2 267.9,150.3 268.9,146.4 269.8,143.3 270.8,144.7 271.7,157.8 272.7,154.6 273.7,150.7 274.6,149.5 275.6,144.7 276.5,140.1 277.5,147.0 278.4,138.0 279.4,158.1 280.3,146.9 281.3,159.0 282.3,157.5 283.2,166.7 284.2,159.0 285.1,147.9 286.1,152.0 287.0,151.7 288.0,145.9 289.0,145.2 289.9,146.9 290.9,144.9 291.8,153.1 292.8,155.3 293.7,151.9 294.7,150.7 295.6,197.6 296.6,158.3 297.6,149.2 298.5,153.3 299.5,176.0 300.4,161.1 301.4,152.8 302.3,162.7 303.3,173.3 304.3,164.9 305.2,146.6 306.2,142.4 307.1,159.7 308.1,156.5 309.0,160.1 310.0,161.0 310.9,159.4 311.9,167.2 312.9,162.8 313.8,162.9 314.8,161.5 315.7,160.4 316.7,172.2 317.6,158.3 318.6,150.8 319.6,159.9 320.5,151.5 321.5,155.2 322.4,150.4 323.4,159.0 324.3,158.0 325.3,161.4 326.2,155.4 327.2,155.6 328.2,144.2 329.1,182.0 330.1,158.4 331.0,158.0 332.0,158.0 332.9,155.7 333.9,156.3 334.8,137.0 335.8,159.1 336.8,155.9 337.7,160.6 338.7,160.5 339.6,156.1 340.6,165.8 341.5,170.8 342.5,162.9 343.5,170.3 344.4,157.2 345.4,166.0 346.3,153.8 347.3,158.1 348.2,157.6 349.2,156.1 350.1,160.6 351.1,154.4 352.1,152.4 353.0,149.4 354.0,161.8 354.9,156.9 355.9,159.5 356.8,157.7 357.8,163.4 358.8,155.4 359.7,152.2 360.7,151.8 361.6,156.0 362.6,153.0 363.5,158.0 364.5,161.0 365.4,165.0 366.4,164.4 367.4,168.6 368.3,161.5 369.3,157.2 370.2,154.0 371.2,152.4 372.1,148.2 373.1,155.2 374.1,157.1 375.0,146.5 376.0,151.6 376.9,150.9 377.9,149.6 378.8,152.3 379.8,161.4 380.7,160.1 381.7,148.4 382.7,154.8 383.6,151.6 384.6,163.3 385.5,157.9 386.5,157.3 387.4,156.4 388.4,152.6 389.4,152.9 390.3,154.6 391.3,167.6 392.2,163.2 393.2,163.0 394.1,160.8 395.1,160.2 396.0,160.6 397.0,166.5 398.0,146.5 398.9,148.7 399.9,148.6 400.8,158.5 401.8,155.3 402.7,163.7 403.7,169.4 404.7,163.7 405.6,167.7 406.6,164.3 407.5,170.7 408.5,172.7 409.4,178.4 410.4,179.6 411.3,169.8 412.3,180.0 413.3,176.0 414.2,180.4 415.2,189.0 416.1,179.9 417.1,168.6 418.0,178.4 419.0,169.1 419.9,169.6 420.9,173.6 421.9,163.6 422.8,170.0 423.8,171.1 424.7,176.5 425.7,173.7 426.6,166.7 427.6,162.7 428.6,162.3 429.5,167.9 430.5,168.9 431.4,174.0 432.4,182.3 433.3,175.3 434.3,170.8 435.2,173.7 436.2,175.5 437.2,160.6 438.1,162.3 439.1,167.5 440.0,173.3 441.0,169.6 441.9,164.4 442.9,180.6 443.9,157.3 444.8,173.0 445.8,168.2 446.7,167.5 447.7,169.3 448.6,172.3 449.6,165.9 450.5,160.1 451.5,167.5 452.5,176.8 453.4,172.2 454.4,185.2 455.3,170.4 456.3,175.6 457.2,176.2 458.2,181.5 459.2,169.6 460.1,174.1 461.1,171.8 462.0,157.5 463.0,161.5 463.9,157.5 464.9,162.0 465.8,170.2 466.8,170.0 467.8,181.7 468.7,180.5 469.7,172.2 470.6,169.6 471.6,172.8 472.5,167.6 473.5,172.8 474.5,175.6 475.4,179.4 476.4,176.6 477.3,175.0 478.3,166.4 479.2,170.5 480.2,170.3 481.1,172.2 482.1,174.6 483.1,169.2 484.0,168.3 485.0,171.8 485.9,173.4 486.9,172.5 487.8,175.4 488.8,186.9 489.7,174.2 490.7,186.5 491.7,194.1 492.6,207.0 493.6,193.7 494.5,196.0 495.5,198.5 496.4,198.1 497.4,199.9 498.4,185.9 499.3,176.2 500.3,179.6 501.2,174.1 502.2,172.9 503.1,180.8 504.1,181.8 505.0,175.1 506.0,177.6 507.0,156.0 507.9,180.5 508.9,179.0 509.8,171.0 510.8,182.5 511.7,177.5 512.7,175.8 513.7,170.8 514.6,172.1 515.6,172.2 516.5,180.4 517.5,186.1 518.4,195.5 519.4,199.4 520.3,192.0 521.3,185.8 522.3,182.0 523.2,194.0 524.2,186.6 525.1,200.7 526.1,197.5 527.0,194.3 528.0,194.6 529.0,207.3 529.9,200.8 530.9,193.9 531.8,185.3 532.8,205.0 533.7,179.8 534.7,211.0 535.6,199.9 536.6,207.0 537.6,171.9 538.5,187.1 539.5,187.2 540.4,168.2 541.4,170.4 542.3,164.3 543.3,174.8 544.3,176.2 545.2,167.4 546.2,152.4 547.1,156.2 548.1,176.2 549.0,173.6 550.0,166.2 550.9,171.3 551.9,165.1 552.9,175.1 553.8,159.7 554.8,159.8 555.7,171.9 556.7,175.6 557.6,173.7 558.6,160.6 559.6,163.1 560.5,168.2 561.5,164.0 562.4,164.6 563.4,170.3 564.3,165.4 565.3,168.4 566.2,165.1 567.2,158.0 568.2,152.3 569.1,154.2 570.1,154.1 571.0,165.5 572.0,165.5 572.9,153.5 573.9,168.1 574.8,181.1 575.8,182.0 576.8,170.7 577.7,166.9 578.7,170.4 579.6,168.1 580.6,169.1 581.5,166.7 582.5,161.8 583.5,161.0 584.4,157.9 585.4,158.3 586.3,162.4 587.3,184.3 588.2,185.7 589.2,194.7 590.1,201.0 591.1,178.4 592.1,185.5 593.0,190.7 594.0,188.5 594.9,181.7 595.9,172.2 596.8,177.7 597.8,168.9 598.8,176.2 599.7,174.9 600.7,173.4 601.6,172.4 602.6,166.8 603.5,165.7 604.5,174.8 605.4,173.0 606.4,171.5 607.4,181.2 608.3,157.0 609.3,184.0 610.2,172.6 611.2,182.7 612.1,184.7 613.1,176.2 614.1,174.4 615.0,182.7 616.0,188.7 616.9,157.0 617.9,174.3 618.8,184.9 619.8,179.8 620.7,185.2 621.7,183.3 622.7,181.3 623.6,178.6 624.6,188.9 625.5,182.8 626.5,182.1 627.4,177.8 628.4,191.7 629.4,186.8 630.3,177.3 631.3,178.6 632.2,169.4 633.2,174.0 634.1,170.2 635.1,183.1 636.0,191.0 637.0,200.5" fill="none" stroke="#a487c2" stroke-width="1.2" stroke-linejoin="round"/>
<g fill="url(#gu)" stroke="none" stroke-width="0.7">
<circle cx="102.5" cy="130.0" r="3.25"/><circle cx="103.5" cy="205.0" r="3.25"/><circle cx="104.4" cy="183.6" r="3.25"/><circle cx="105.4" cy="155.0" r="3.25"/><circle cx="106.3" cy="161.0" r="3.25"/><circle cx="107.3" cy="185.9" r="3.25"/><circle cx="108.2" cy="185.5" r="3.25"/><circle cx="109.2" cy="182.7" r="3.25"/><circle cx="110.1" cy="175.7" r="3.25"/><circle cx="111.1" cy="176.5" r="3.25"/><circle cx="112.1" cy="184.2" r="3.25"/><circle cx="113.0" cy="184.4" r="3.25"/><circle cx="114.0" cy="181.5" r="3.25"/><circle cx="114.9" cy="176.3" r="3.25"/><circle cx="115.9" cy="178.7" r="3.25"/><circle cx="116.8" cy="177.3" r="3.25"/><circle cx="117.8" cy="179.8" r="3.25"/><circle cx="118.8" cy="183.4" r="3.25"/><circle cx="119.7" cy="170.9" r="3.25"/><circle cx="120.7" cy="176.0" r="3.25"/><circle cx="121.6" cy="171.4" r="3.25"/><circle cx="122.6" cy="171.9" r="3.25"/><circle cx="123.5" cy="170.5" r="3.25"/><circle cx="124.5" cy="182.0" r="3.25"/><circle cx="125.4" cy="185.5" r="3.25"/><circle cx="126.4" cy="186.3" r="3.25"/><circle cx="127.4" cy="180.3" r="3.25"/><circle cx="128.3" cy="173.7" r="3.25"/><circle cx="129.3" cy="175.9" r="3.25"/><circle cx="130.2" cy="180.0" r="3.25"/><circle cx="131.2" cy="180.6" r="3.25"/><circle cx="132.1" cy="184.9" r="3.25"/><circle cx="133.1" cy="181.6" r="3.25"/><circle cx="134.1" cy="191.1" r="3.25"/><circle cx="135.0" cy="190.0" r="3.25"/><circle cx="136.0" cy="196.3" r="3.25"/><circle cx="136.9" cy="190.4" r="3.25"/><circle cx="137.9" cy="185.0" r="3.25"/><circle cx="138.8" cy="179.1" r="3.25"/><circle cx="139.8" cy="184.7" r="3.25"/><circle cx="140.7" cy="188.8" r="3.25"/><circle cx="141.7" cy="186.2" r="3.25"/><circle cx="142.7" cy="186.2" r="3.25"/><circle cx="143.6" cy="182.7" r="3.25"/><circle cx="144.6" cy="180.2" r="3.25"/><circle cx="145.5" cy="179.6" r="3.25"/><circle cx="146.5" cy="171.0" r="3.25"/><circle cx="147.4" cy="171.2" r="3.25"/><circle cx="148.4" cy="176.8" r="3.25"/><circle cx="149.4" cy="180.1" r="3.25"/><circle cx="150.3" cy="186.7" r="3.25"/><circle cx="151.3" cy="187.6" r="3.25"/><circle cx="152.2" cy="187.0" r="3.25"/><circle cx="153.2" cy="184.7" r="3.25"/><circle cx="154.1" cy="171.6" r="3.25"/><circle cx="155.1" cy="177.0" r="3.25"/><circle cx="156.0" cy="174.9" r="3.25"/><circle cx="157.0" cy="181.0" r="3.25"/><circle cx="158.0" cy="180.0" r="3.25"/><circle cx="158.9" cy="179.2" r="3.25"/><circle cx="159.9" cy="177.8" r="3.25"/><circle cx="160.8" cy="178.4" r="3.25"/><circle cx="161.8" cy="170.0" r="3.25"/><circle cx="162.7" cy="167.7" r="3.25"/><circle cx="163.7" cy="181.1" r="3.25"/><circle cx="164.7" cy="183.8" r="3.25"/><circle cx="165.6" cy="180.6" r="3.25"/><circle cx="166.6" cy="179.4" r="3.25"/><circle cx="167.5" cy="178.8" r="3.25"/><circle cx="168.5" cy="197.2" r="3.25"/><circle cx="169.4" cy="192.3" r="3.25"/><circle cx="170.4" cy="187.1" r="3.25"/><circle cx="171.3" cy="181.0" r="3.25"/><circle cx="172.3" cy="169.2" r="3.25"/><circle cx="173.3" cy="176.2" r="3.25"/><circle cx="174.2" cy="186.2" r="3.25"/><circle cx="175.2" cy="188.9" r="3.25"/><circle cx="176.1" cy="186.8" r="3.25"/><circle cx="177.1" cy="181.2" r="3.25"/><circle cx="178.0" cy="175.4" r="3.25"/><circle cx="179.0" cy="179.0" r="3.25"/><circle cx="179.9" cy="178.3" r="3.25"/><circle cx="180.9" cy="174.2" r="3.25"/><circle cx="181.9" cy="186.6" r="3.25"/><circle cx="182.8" cy="179.4" r="3.25"/><circle cx="183.8" cy="177.8" r="3.25"/><circle cx="184.7" cy="167.4" r="3.25"/><circle cx="185.7" cy="183.5" r="3.25"/><circle cx="186.6" cy="176.7" r="3.25"/><circle cx="187.6" cy="168.6" r="3.25"/><circle cx="188.6" cy="162.9" r="3.25"/><circle cx="189.5" cy="153.5" r="3.25"/><circle cx="190.5" cy="151.9" r="3.25"/><circle cx="191.4" cy="156.7" r="3.25"/><circle cx="192.4" cy="152.3" r="3.25"/><circle cx="193.3" cy="157.0" r="3.25"/><circle cx="194.3" cy="164.8" r="3.25"/><circle cx="195.2" cy="165.9" r="3.25"/><circle cx="196.2" cy="170.5" r="3.25"/><circle cx="197.2" cy="170.7" r="3.25"/><circle cx="198.1" cy="174.8" r="3.25"/><circle cx="199.1" cy="168.1" r="3.25"/><circle cx="200.0" cy="165.6" r="3.25"/><circle cx="201.0" cy="155.1" r="3.25"/><circle cx="201.9" cy="155.4" r="3.25"/><circle cx="202.9" cy="152.2" r="3.25"/><circle cx="203.9" cy="154.6" r="3.25"/><circle cx="204.8" cy="149.9" r="3.25"/><circle cx="205.8" cy="155.8" r="3.25"/><circle cx="206.7" cy="129.0" r="3.25"/><circle cx="207.7" cy="160.5" r="3.25"/><circle cx="208.6" cy="162.7" r="3.25"/><circle cx="209.6" cy="164.1" r="3.25"/><circle cx="210.5" cy="156.5" r="3.25"/><circle cx="211.5" cy="155.4" r="3.25"/><circle cx="212.5" cy="153.5" r="3.25"/><circle cx="213.4" cy="158.3" r="3.25"/><circle cx="214.4" cy="154.2" r="3.25"/><circle cx="215.3" cy="171.9" r="3.25"/><circle cx="216.3" cy="170.1" r="3.25"/><circle cx="217.2" cy="171.0" r="3.25"/><circle cx="218.2" cy="177.2" r="3.25"/><circle cx="219.2" cy="175.8" r="3.25"/><circle cx="220.1" cy="166.7" r="3.25"/><circle cx="221.1" cy="165.0" r="3.25"/><circle cx="222.0" cy="162.4" r="3.25"/><circle cx="223.0" cy="162.4" r="3.25"/><circle cx="223.9" cy="166.3" r="3.25"/><circle cx="224.9" cy="152.8" r="3.25"/><circle cx="225.8" cy="146.9" r="3.25"/><circle cx="226.8" cy="150.6" r="3.25"/><circle cx="227.8" cy="156.3" r="3.25"/><circle cx="228.7" cy="153.7" r="3.25"/><circle cx="229.7" cy="153.7" r="3.25"/><circle cx="230.6" cy="160.7" r="3.25"/><circle cx="231.6" cy="161.6" r="3.25"/><circle cx="232.5" cy="157.1" r="3.25"/><circle cx="233.5" cy="153.2" r="3.25"/><circle cx="234.5" cy="144.0" r="3.25"/><circle cx="235.4" cy="151.1" r="3.25"/><circle cx="236.4" cy="152.5" r="3.25"/><circle cx="237.3" cy="146.6" r="3.25"/><circle cx="238.3" cy="152.5" r="3.25"/><circle cx="239.2" cy="150.1" r="3.25"/><circle cx="240.2" cy="149.1" r="3.25"/><circle cx="241.1" cy="140.5" r="3.25"/><circle cx="242.1" cy="151.6" r="3.25"/><circle cx="243.1" cy="147.1" r="3.25"/><circle cx="244.0" cy="151.2" r="3.25"/><circle cx="245.0" cy="152.8" r="3.25"/><circle cx="245.9" cy="148.7" r="3.25"/><circle cx="246.9" cy="149.7" r="3.25"/><circle cx="247.8" cy="149.0" r="3.25"/><circle cx="248.8" cy="148.6" r="3.25"/><circle cx="249.8" cy="151.0" r="3.25"/><circle cx="250.7" cy="147.1" r="3.25"/><circle cx="251.7" cy="153.1" r="3.25"/><circle cx="252.6" cy="152.6" r="3.25"/><circle cx="253.6" cy="144.5" r="3.25"/><circle cx="254.5" cy="150.0" r="3.25"/><circle cx="255.5" cy="147.8" r="3.25"/><circle cx="256.4" cy="151.9" r="3.25"/><circle cx="257.4" cy="136.9" r="3.25"/><circle cx="258.4" cy="145.6" r="3.25"/><circle cx="259.3" cy="134.2" r="3.25"/><circle cx="260.3" cy="139.4" r="3.25"/><circle cx="261.2" cy="164.2" r="3.25"/><circle cx="262.2" cy="161.2" r="3.25"/><circle cx="263.1" cy="162.2" r="3.25"/><circle cx="264.1" cy="151.9" r="3.25"/><circle cx="265.0" cy="144.3" r="3.25"/><circle cx="266.0" cy="146.9" r="3.25"/><circle cx="267.0" cy="151.2" r="3.25"/><circle cx="267.9" cy="150.3" r="3.25"/><circle cx="268.9" cy="146.4" r="3.25"/><circle cx="269.8" cy="143.3" r="3.25"/><circle cx="270.8" cy="144.7" r="3.25"/><circle cx="271.7" cy="157.8" r="3.25"/><circle cx="272.7" cy="154.6" r="3.25"/><circle cx="273.7" cy="150.7" r="3.25"/><circle cx="274.6" cy="149.5" r="3.25"/><circle cx="275.6" cy="144.7" r="3.25"/><circle cx="276.5" cy="140.1" r="3.25"/><circle cx="277.5" cy="147.0" r="3.25"/><circle cx="278.4" cy="138.0" r="3.25"/><circle cx="279.4" cy="158.1" r="3.25"/><circle cx="280.3" cy="146.9" r="3.25"/><circle cx="281.3" cy="159.0" r="3.25"/><circle cx="282.3" cy="157.5" r="3.25"/><circle cx="283.2" cy="166.7" r="3.25"/><circle cx="284.2" cy="159.0" r="3.25"/><circle cx="285.1" cy="147.9" r="3.25"/><circle cx="286.1" cy="152.0" r="3.25"/><circle cx="287.0" cy="151.7" r="3.25"/><circle cx="288.0" cy="145.9" r="3.25"/><circle cx="289.0" cy="145.2" r="3.25"/><circle cx="289.9" cy="146.9" r="3.25"/><circle cx="290.9" cy="144.9" r="3.25"/><circle cx="291.8" cy="153.1" r="3.25"/><circle cx="292.8" cy="155.3" r="3.25"/><circle cx="293.7" cy="151.9" r="3.25"/><circle cx="294.7" cy="150.7" r="3.25"/><circle cx="295.6" cy="197.6" r="3.25"/><circle cx="296.6" cy="158.3" r="3.25"/><circle cx="297.6" cy="149.2" r="3.25"/><circle cx="298.5" cy="153.3" r="3.25"/><circle cx="299.5" cy="176.0" r="3.25"/><circle cx="300.4" cy="161.1" r="3.25"/><circle cx="301.4" cy="152.8" r="3.25"/><circle cx="302.3" cy="162.7" r="3.25"/><circle cx="303.3" cy="173.3" r="3.25"/><circle cx="304.3" cy="164.9" r="3.25"/><circle cx="305.2" cy="146.6" r="3.25"/><circle cx="306.2" cy="142.4" r="3.25"/><circle cx="307.1" cy="159.7" r="3.25"/><circle cx="308.1" cy="156.5" r="3.25"/><circle cx="309.0" cy="160.1" r="3.25"/><circle cx="310.0" cy="161.0" r="3.25"/><circle cx="310.9" cy="159.4" r="3.25"/><circle cx="311.9" cy="167.2" r="3.25"/><circle cx="312.9" cy="162.8" r="3.25"/><circle cx="313.8" cy="162.9" r="3.25"/><circle cx="314.8" cy="161.5" r="3.25"/><circle cx="315.7" cy="160.4" r="3.25"/><circle cx="316.7" cy="172.2" r="3.25"/><circle cx="317.6" cy="158.3" r="3.25"/><circle cx="318.6" cy="150.8" r="3.25"/><circle cx="319.6" cy="159.9" r="3.25"/><circle cx="320.5" cy="151.5" r="3.25"/><circle cx="321.5" cy="155.2" r="3.25"/><circle cx="322.4" cy="150.4" r="3.25"/><circle cx="323.4" cy="159.0" r="3.25"/><circle cx="324.3" cy="158.0" r="3.25"/><circle cx="325.3" cy="161.4" r="3.25"/><circle cx="326.2" cy="155.4" r="3.25"/><circle cx="327.2" cy="155.6" r="3.25"/><circle cx="328.2" cy="144.2" r="3.25"/><circle cx="329.1" cy="182.0" r="3.25"/><circle cx="330.1" cy="158.4" r="3.25"/><circle cx="331.0" cy="158.0" r="3.25"/><circle cx="332.0" cy="158.0" r="3.25"/><circle cx="332.9" cy="155.7" r="3.25"/><circle cx="333.9" cy="156.3" r="3.25"/><circle cx="334.8" cy="137.0" r="3.25"/><circle cx="335.8" cy="159.1" r="3.25"/><circle cx="336.8" cy="155.9" r="3.25"/><circle cx="337.7" cy="160.6" r="3.25"/><circle cx="338.7" cy="160.5" r="3.25"/><circle cx="339.6" cy="156.1" r="3.25"/><circle cx="340.6" cy="165.8" r="3.25"/><circle cx="341.5" cy="170.8" r="3.25"/><circle cx="342.5" cy="162.9" r="3.25"/><circle cx="343.5" cy="170.3" r="3.25"/><circle cx="344.4" cy="157.2" r="3.25"/><circle cx="345.4" cy="166.0" r="3.25"/><circle cx="346.3" cy="153.8" r="3.25"/><circle cx="347.3" cy="158.1" r="3.25"/><circle cx="348.2" cy="157.6" r="3.25"/><circle cx="349.2" cy="156.1" r="3.25"/><circle cx="350.1" cy="160.6" r="3.25"/><circle cx="351.1" cy="154.4" r="3.25"/><circle cx="352.1" cy="152.4" r="3.25"/><circle cx="353.0" cy="149.4" r="3.25"/><circle cx="354.0" cy="161.8" r="3.25"/><circle cx="354.9" cy="156.9" r="3.25"/><circle cx="355.9" cy="159.5" r="3.25"/><circle cx="356.8" cy="157.7" r="3.25"/><circle cx="357.8" cy="163.4" r="3.25"/><circle cx="358.8" cy="155.4" r="3.25"/><circle cx="359.7" cy="152.2" r="3.25"/><circle cx="360.7" cy="151.8" r="3.25"/><circle cx="361.6" cy="156.0" r="3.25"/><circle cx="362.6" cy="153.0" r="3.25"/><circle cx="363.5" cy="158.0" r="3.25"/><circle cx="364.5" cy="161.0" r="3.25"/><circle cx="365.4" cy="165.0" r="3.25"/><circle cx="366.4" cy="164.4" r="3.25"/><circle cx="367.4" cy="168.6" r="3.25"/><circle cx="368.3" cy="161.5" r="3.25"/><circle cx="369.3" cy="157.2" r="3.25"/><circle cx="370.2" cy="154.0" r="3.25"/><circle cx="371.2" cy="152.4" r="3.25"/><circle cx="372.1" cy="148.2" r="3.25"/><circle cx="373.1" cy="155.2" r="3.25"/><circle cx="374.1" cy="157.1" r="3.25"/><circle cx="375.0" cy="146.5" r="3.25"/><circle cx="376.0" cy="151.6" r="3.25"/><circle cx="376.9" cy="150.9" r="3.25"/><circle cx="377.9" cy="149.6" r="3.25"/><circle cx="378.8" cy="152.3" r="3.25"/><circle cx="379.8" cy="161.4" r="3.25"/><circle cx="380.7" cy="160.1" r="3.25"/><circle cx="381.7" cy="148.4" r="3.25"/><circle cx="382.7" cy="154.8" r="3.25"/><circle cx="383.6" cy="151.6" r="3.25"/><circle cx="384.6" cy="163.3" r="3.25"/><circle cx="385.5" cy="157.9" r="3.25"/><circle cx="386.5" cy="157.3" r="3.25"/><circle cx="387.4" cy="156.4" r="3.25"/><circle cx="388.4" cy="152.6" r="3.25"/><circle cx="389.4" cy="152.9" r="3.25"/><circle cx="390.3" cy="154.6" r="3.25"/><circle cx="391.3" cy="167.6" r="3.25"/><circle cx="392.2" cy="163.2" r="3.25"/><circle cx="393.2" cy="163.0" r="3.25"/><circle cx="394.1" cy="160.8" r="3.25"/><circle cx="395.1" cy="160.2" r="3.25"/><circle cx="396.0" cy="160.6" r="3.25"/><circle cx="397.0" cy="166.5" r="3.25"/><circle cx="398.0" cy="146.5" r="3.25"/><circle cx="398.9" cy="148.7" r="3.25"/><circle cx="399.9" cy="148.6" r="3.25"/><circle cx="400.8" cy="158.5" r="3.25"/><circle cx="401.8" cy="155.3" r="3.25"/><circle cx="402.7" cy="163.7" r="3.25"/><circle cx="403.7" cy="169.4" r="3.25"/><circle cx="404.7" cy="163.7" r="3.25"/><circle cx="405.6" cy="167.7" r="3.25"/><circle cx="406.6" cy="164.3" r="3.25"/><circle cx="407.5" cy="170.7" r="3.25"/><circle cx="408.5" cy="172.7" r="3.25"/><circle cx="409.4" cy="178.4" r="3.25"/><circle cx="410.4" cy="179.6" r="3.25"/><circle cx="411.3" cy="169.8" r="3.25"/><circle cx="412.3" cy="180.0" r="3.25"/><circle cx="413.3" cy="176.0" r="3.25"/><circle cx="414.2" cy="180.4" r="3.25"/><circle cx="415.2" cy="189.0" r="3.25"/><circle cx="416.1" cy="179.9" r="3.25"/><circle cx="417.1" cy="168.6" r="3.25"/><circle cx="418.0" cy="178.4" r="3.25"/><circle cx="419.0" cy="169.1" r="3.25"/><circle cx="419.9" cy="169.6" r="3.25"/><circle cx="420.9" cy="173.6" r="3.25"/><circle cx="421.9" cy="163.6" r="3.25"/><circle cx="422.8" cy="170.0" r="3.25"/><circle cx="423.8" cy="171.1" r="3.25"/><circle cx="424.7" cy="176.5" r="3.25"/><circle cx="425.7" cy="173.7" r="3.25"/><circle cx="426.6" cy="166.7" r="3.25"/><circle cx="427.6" cy="162.7" r="3.25"/><circle cx="428.6" cy="162.3" r="3.25"/><circle cx="429.5" cy="167.9" r="3.25"/><circle cx="430.5" cy="168.9" r="3.25"/><circle cx="431.4" cy="174.0" r="3.25"/><circle cx="432.4" cy="182.3" r="3.25"/><circle cx="433.3" cy="175.3" r="3.25"/><circle cx="434.3" cy="170.8" r="3.25"/><circle cx="435.2" cy="173.7" r="3.25"/><circle cx="436.2" cy="175.5" r="3.25"/><circle cx="437.2" cy="160.6" r="3.25"/><circle cx="438.1" cy="162.3" r="3.25"/><circle cx="439.1" cy="167.5" r="3.25"/><circle cx="440.0" cy="173.3" r="3.25"/><circle cx="441.0" cy="169.6" r="3.25"/><circle cx="441.9" cy="164.4" r="3.25"/><circle cx="442.9" cy="180.6" r="3.25"/><circle cx="443.9" cy="157.3" r="3.25"/><circle cx="444.8" cy="173.0" r="3.25"/><circle cx="445.8" cy="168.2" r="3.25"/><circle cx="446.7" cy="167.5" r="3.25"/><circle cx="447.7" cy="169.3" r="3.25"/><circle cx="448.6" cy="172.3" r="3.25"/><circle cx="449.6" cy="165.9" r="3.25"/><circle cx="450.5" cy="160.1" r="3.25"/><circle cx="451.5" cy="167.5" r="3.25"/><circle cx="452.5" cy="176.8" r="3.25"/><circle cx="453.4" cy="172.2" r="3.25"/><circle cx="454.4" cy="185.2" r="3.25"/><circle cx="455.3" cy="170.4" r="3.25"/><circle cx="456.3" cy="175.6" r="3.25"/><circle cx="457.2" cy="176.2" r="3.25"/><circle cx="458.2" cy="181.5" r="3.25"/><circle cx="459.2" cy="169.6" r="3.25"/><circle cx="460.1" cy="174.1" r="3.25"/><circle cx="461.1" cy="171.8" r="3.25"/><circle cx="462.0" cy="157.5" r="3.25"/><circle cx="463.0" cy="161.5" r="3.25"/><circle cx="463.9" cy="157.5" r="3.25"/><circle cx="464.9" cy="162.0" r="3.25"/><circle cx="465.8" cy="170.2" r="3.25"/><circle cx="466.8" cy="170.0" r="3.25"/><circle cx="467.8" cy="181.7" r="3.25"/><circle cx="468.7" cy="180.5" r="3.25"/><circle cx="469.7" cy="172.2" r="3.25"/><circle cx="470.6" cy="169.6" r="3.25"/><circle cx="471.6" cy="172.8" r="3.25"/><circle cx="472.5" cy="167.6" r="3.25"/><circle cx="473.5" cy="172.8" r="3.25"/><circle cx="474.5" cy="175.6" r="3.25"/><circle cx="475.4" cy="179.4" r="3.25"/><circle cx="476.4" cy="176.6" r="3.25"/><circle cx="477.3" cy="175.0" r="3.25"/><circle cx="478.3" cy="166.4" r="3.25"/><circle cx="479.2" cy="170.5" r="3.25"/><circle cx="480.2" cy="170.3" r="3.25"/><circle cx="481.1" cy="172.2" r="3.25"/><circle cx="482.1" cy="174.6" r="3.25"/><circle cx="483.1" cy="169.2" r="3.25"/><circle cx="484.0" cy="168.3" r="3.25"/><circle cx="485.0" cy="171.8" r="3.25"/><circle cx="485.9" cy="173.4" r="3.25"/><circle cx="486.9" cy="172.5" r="3.25"/><circle cx="487.8" cy="175.4" r="3.25"/><circle cx="488.8" cy="186.9" r="3.25"/><circle cx="489.7" cy="174.2" r="3.25"/><circle cx="490.7" cy="186.5" r="3.25"/><circle cx="491.7" cy="194.1" r="3.25"/><circle cx="492.6" cy="207.0" r="3.25"/><circle cx="493.6" cy="193.7" r="3.25"/><circle cx="494.5" cy="196.0" r="3.25"/><circle cx="495.5" cy="198.5" r="3.25"/><circle cx="496.4" cy="198.1" r="3.25"/><circle cx="497.4" cy="199.9" r="3.25"/><circle cx="498.4" cy="185.9" r="3.25"/><circle cx="499.3" cy="176.2" r="3.25"/><circle cx="500.3" cy="179.6" r="3.25"/><circle cx="501.2" cy="174.1" r="3.25"/><circle cx="502.2" cy="172.9" r="3.25"/><circle cx="503.1" cy="180.8" r="3.25"/><circle cx="504.1" cy="181.8" r="3.25"/><circle cx="505.0" cy="175.1" r="3.25"/><circle cx="506.0" cy="177.6" r="3.25"/><circle cx="507.0" cy="156.0" r="3.25"/><circle cx="507.9" cy="180.5" r="3.25"/><circle cx="508.9" cy="179.0" r="3.25"/><circle cx="509.8" cy="171.0" r="3.25"/><circle cx="510.8" cy="182.5" r="3.25"/><circle cx="511.7" cy="177.5" r="3.25"/><circle cx="512.7" cy="175.8" r="3.25"/><circle cx="513.7" cy="170.8" r="3.25"/><circle cx="514.6" cy="172.1" r="3.25"/><circle cx="515.6" cy="172.2" r="3.25"/><circle cx="516.5" cy="180.4" r="3.25"/><circle cx="517.5" cy="186.1" r="3.25"/><circle cx="518.4" cy="195.5" r="3.25"/><circle cx="519.4" cy="199.4" r="3.25"/><circle cx="520.3" cy="192.0" r="3.25"/><circle cx="521.3" cy="185.8" r="3.25"/><circle cx="522.3" cy="182.0" r="3.25"/><circle cx="523.2" cy="194.0" r="3.25"/><circle cx="524.2" cy="186.6" r="3.25"/><circle cx="525.1" cy="200.7" r="3.25"/><circle cx="526.1" cy="197.5" r="3.25"/><circle cx="527.0" cy="194.3" r="3.25"/><circle cx="528.0" cy="194.6" r="3.25"/><circle cx="529.0" cy="207.3" r="3.25"/><circle cx="529.9" cy="200.8" r="3.25"/><circle cx="530.9" cy="193.9" r="3.25"/><circle cx="531.8" cy="185.3" r="3.25"/><circle cx="532.8" cy="205.0" r="3.25"/><circle cx="533.7" cy="179.8" r="3.25"/><circle cx="534.7" cy="211.0" r="3.25"/><circle cx="535.6" cy="199.9" r="3.25"/><circle cx="536.6" cy="207.0" r="3.25"/><circle cx="537.6" cy="171.9" r="3.25"/><circle cx="538.5" cy="187.1" r="3.25"/><circle cx="539.5" cy="187.2" r="3.25"/><circle cx="540.4" cy="168.2" r="3.25"/><circle cx="541.4" cy="170.4" r="3.25"/><circle cx="542.3" cy="164.3" r="3.25"/><circle cx="543.3" cy="174.8" r="3.25"/><circle cx="544.3" cy="176.2" r="3.25"/><circle cx="545.2" cy="167.4" r="3.25"/><circle cx="546.2" cy="152.4" r="3.25"/><circle cx="547.1" cy="156.2" r="3.25"/><circle cx="548.1" cy="176.2" r="3.25"/><circle cx="549.0" cy="173.6" r="3.25"/><circle cx="550.0" cy="166.2" r="3.25"/><circle cx="550.9" cy="171.3" r="3.25"/><circle cx="551.9" cy="165.1" r="3.25"/><circle cx="552.9" cy="175.1" r="3.25"/><circle cx="553.8" cy="159.7" r="3.25"/><circle cx="554.8" cy="159.8" r="3.25"/><circle cx="555.7" cy="171.9" r="3.25"/><circle cx="556.7" cy="175.6" r="3.25"/><circle cx="557.6" cy="173.7" r="3.25"/><circle cx="558.6" cy="160.6" r="3.25"/><circle cx="559.6" cy="163.1" r="3.25"/><circle cx="560.5" cy="168.2" r="3.25"/><circle cx="561.5" cy="164.0" r="3.25"/><circle cx="562.4" cy="164.6" r="3.25"/><circle cx="563.4" cy="170.3" r="3.25"/><circle cx="564.3" cy="165.4" r="3.25"/><circle cx="565.3" cy="168.4" r="3.25"/><circle cx="566.2" cy="165.1" r="3.25"/><circle cx="567.2" cy="158.0" r="3.25"/><circle cx="568.2" cy="152.3" r="3.25"/><circle cx="569.1" cy="154.2" r="3.25"/><circle cx="570.1" cy="154.1" r="3.25"/><circle cx="571.0" cy="165.5" r="3.25"/><circle cx="572.0" cy="165.5" r="3.25"/><circle cx="572.9" cy="153.5" r="3.25"/><circle cx="573.9" cy="168.1" r="3.25"/><circle cx="574.8" cy="181.1" r="3.25"/><circle cx="575.8" cy="182.0" r="3.25"/><circle cx="576.8" cy="170.7" r="3.25"/><circle cx="577.7" cy="166.9" r="3.25"/><circle cx="578.7" cy="170.4" r="3.25"/><circle cx="579.6" cy="168.1" r="3.25"/><circle cx="580.6" cy="169.1" r="3.25"/><circle cx="581.5" cy="166.7" r="3.25"/><circle cx="582.5" cy="161.8" r="3.25"/><circle cx="583.5" cy="161.0" r="3.25"/><circle cx="584.4" cy="157.9" r="3.25"/><circle cx="585.4" cy="158.3" r="3.25"/><circle cx="586.3" cy="162.4" r="3.25"/><circle cx="587.3" cy="184.3" r="3.25"/><circle cx="588.2" cy="185.7" r="3.25"/><circle cx="589.2" cy="194.7" r="3.25"/><circle cx="590.1" cy="201.0" r="3.25"/><circle cx="591.1" cy="178.4" r="3.25"/><circle cx="592.1" cy="185.5" r="3.25"/><circle cx="593.0" cy="190.7" r="3.25"/><circle cx="594.0" cy="188.5" r="3.25"/><circle cx="594.9" cy="181.7" r="3.25"/><circle cx="595.9" cy="172.2" r="3.25"/><circle cx="596.8" cy="177.7" r="3.25"/><circle cx="597.8" cy="168.9" r="3.25"/><circle cx="598.8" cy="176.2" r="3.25"/><circle cx="599.7" cy="174.9" r="3.25"/><circle cx="600.7" cy="173.4" r="3.25"/><circle cx="601.6" cy="172.4" r="3.25"/><circle cx="602.6" cy="166.8" r="3.25"/><circle cx="603.5" cy="165.7" r="3.25"/><circle cx="604.5" cy="174.8" r="3.25"/><circle cx="605.4" cy="173.0" r="3.25"/><circle cx="606.4" cy="171.5" r="3.25"/><circle cx="607.4" cy="181.2" r="3.25"/><circle cx="608.3" cy="157.0" r="3.25"/><circle cx="609.3" cy="184.0" r="3.25"/><circle cx="610.2" cy="172.6" r="3.25"/><circle cx="611.2" cy="182.7" r="3.25"/><circle cx="612.1" cy="184.7" r="3.25"/><circle cx="613.1" cy="176.2" r="3.25"/><circle cx="614.1" cy="174.4" r="3.25"/><circle cx="615.0" cy="182.7" r="3.25"/><circle cx="616.0" cy="188.7" r="3.25"/><circle cx="616.9" cy="157.0" r="3.25"/><circle cx="617.9" cy="174.3" r="3.25"/><circle cx="618.8" cy="184.9" r="3.25"/><circle cx="619.8" cy="179.8" r="3.25"/><circle cx="620.7" cy="185.2" r="3.25"/><circle cx="621.7" cy="183.3" r="3.25"/><circle cx="622.7" cy="181.3" r="3.25"/><circle cx="623.6" cy="178.6" r="3.25"/><circle cx="624.6" cy="188.9" r="3.25"/><circle cx="625.5" cy="182.8" r="3.25"/><circle cx="626.5" cy="182.1" r="3.25"/><circle cx="627.4" cy="177.8" r="3.25"/><circle cx="628.4" cy="191.7" r="3.25"/><circle cx="629.4" cy="186.8" r="3.25"/><circle cx="630.3" cy="177.3" r="3.25"/><circle cx="631.3" cy="178.6" r="3.25"/><circle cx="632.2" cy="169.4" r="3.25"/><circle cx="633.2" cy="174.0" r="3.25"/><circle cx="634.1" cy="170.2" r="3.25"/><circle cx="635.1" cy="183.1" r="3.25"/><circle cx="636.0" cy="191.0" r="3.25"/><circle cx="637.0" cy="200.5" r="3.25"/>
</g>
<line x1="80.7" y1="104" x2="80.7" y2="378.7" stroke="#000" stroke-width="2.6"/>
<line x1="70.5" y1="377.6" x2="626.5" y2="377.6" stroke="#000" stroke-width="2.1"/>
<line x1="70.5" y1="377.2" x2="80.7" y2="377.2" stroke="#000" stroke-width="2.2"/>
<text x="65" y="385.1" text-anchor="end" font-family="Liberation Serif" font-size="21.6" fill="#000">0</text>
<line x1="70.5" y1="322.8" x2="80.7" y2="322.8" stroke="#000" stroke-width="2.2"/>
<text x="65" y="330.7" text-anchor="end" font-family="Liberation Serif" font-size="21.6" fill="#000">10</text>
<line x1="70.5" y1="268.3" x2="80.7" y2="268.3" stroke="#000" stroke-width="2.2"/>
<text x="65" y="276.2" text-anchor="end" font-family="Liberation Serif" font-size="21.6" fill="#000">20</text>
<line x1="70.5" y1="213.9" x2="80.7" y2="213.9" stroke="#000" stroke-width="2.2"/>
<text x="65" y="221.8" text-anchor="end" font-family="Liberation Serif" font-size="21.6" fill="#000">30</text>
<line x1="70.5" y1="159.4" x2="80.7" y2="159.4" stroke="#000" stroke-width="2.2"/>
<text x="65" y="167.3" text-anchor="end" font-family="Liberation Serif" font-size="21.6" fill="#000">40</text>
<line x1="70.5" y1="105.0" x2="80.7" y2="105.0" stroke="#000" stroke-width="2.2"/>
<text x="65" y="112.9" text-anchor="end" font-family="Liberation Serif" font-size="21.6" fill="#000">50</text>
<line x1="75" y1="350.0" x2="80.7" y2="350.0" stroke="#000" stroke-width="2"/>
<line x1="75" y1="295.5" x2="80.7" y2="295.5" stroke="#000" stroke-width="2"/>
<line x1="75" y1="241.1" x2="80.7" y2="241.1" stroke="#000" stroke-width="2"/>
<line x1="75" y1="186.7" x2="80.7" y2="186.7" stroke="#000" stroke-width="2"/>
<line x1="75" y1="132.2" x2="80.7" y2="132.2" stroke="#000" stroke-width="2"/>
<line x1="160.2" y1="377" x2="160.2" y2="387.8" stroke="#000" stroke-width="2.2"/>
<line x1="241.5" y1="377" x2="241.5" y2="387.8" stroke="#000" stroke-width="2.2"/>
<line x1="322.8" y1="377" x2="322.8" y2="387.8" stroke="#000" stroke-width="2.2"/>
<line x1="404.1" y1="377" x2="404.1" y2="387.8" stroke="#000" stroke-width="2.2"/>
<line x1="485.4" y1="377" x2="485.4" y2="387.8" stroke="#000" stroke-width="2.2"/>
<line x1="566.7" y1="377" x2="566.7" y2="387.8" stroke="#000" stroke-width="2.2"/>
<line x1="119.6" y1="377" x2="119.6" y2="383" stroke="#000" stroke-width="2"/>
<line x1="200.8" y1="377" x2="200.8" y2="383" stroke="#000" stroke-width="2"/>
<line x1="282.1" y1="377" x2="282.1" y2="383" stroke="#000" stroke-width="2"/>
<line x1="363.4" y1="377" x2="363.4" y2="383" stroke="#000" stroke-width="2"/>
<line x1="444.8" y1="377" x2="444.8" y2="383" stroke="#000" stroke-width="2"/>
<line x1="526.0" y1="377" x2="526.0" y2="383" stroke="#000" stroke-width="2"/>
<line x1="607.3" y1="377" x2="607.3" y2="383" stroke="#000" stroke-width="2"/>
<text transform="translate(20.2,375.3) rotate(-90)" font-family="Liberation Sans" font-size="23.4" fill="#000">Hydraulic support resistance /MPa</text>
<text transform="translate(83.6,399.5) rotate(-59.5)" text-anchor="end" font-family="Liberation Sans" font-size="21.3" fill="#000">2022-06-01</text>
<text transform="translate(173.3,406.0) rotate(-59.5)" text-anchor="end" font-family="Liberation Sans" font-size="21.3" fill="#000">2022-08-02</text>
<text transform="translate(262.3,408.0) rotate(-59.5)" text-anchor="end" font-family="Liberation Sans" font-size="21.3" fill="#000">2022-10-03</text>
<text transform="translate(351.8,409.0) rotate(-59.5)" text-anchor="end" font-family="Liberation Sans" font-size="21.3" fill="#000">2022-12-04</text>
<text transform="translate(444.1,409.0) rotate(-59.5)" text-anchor="end" font-family="Liberation Sans" font-size="21.3" fill="#000">2023-02-04</text>
<text transform="translate(533.6,411.5) rotate(-59.5)" text-anchor="end" font-family="Liberation Sans" font-size="21.3" fill="#000">2023-04-07</text>
<text transform="translate(626.8,411.0) rotate(-59.5)" text-anchor="end" font-family="Liberation Sans" font-size="21.3" fill="#000">2023-06-08</text>
<line x1="219.3" y1="29.4" x2="262.6" y2="29.4" stroke="#b39dc9" stroke-width="1.6"/>
<line x1="315" y1="29.4" x2="358.5" y2="29.4" stroke="#6aa6e0" stroke-width="1.6"/>
<line x1="421" y1="29.4" x2="465" y2="29.4" stroke="#e7776d" stroke-width="1.6"/>
<text x="266.5" y="36.1" font-family="Liberation Serif" font-size="19.6" fill="#000">Upper</text>
<text x="363.5" y="36.1" font-family="Liberation Serif" font-size="19.6" fill="#000">Central</text>
<text x="468.5" y="36.1" font-family="Liberation Serif" font-size="19.6" fill="#000">Lower</text>
<rect x="251.4" y="278.0" width="51" height="22" fill="#dbe6cf" stroke="#000" stroke-width="1.8" stroke-dasharray="5,3.2"/>
<rect x="251.4" y="317.5" width="51" height="22" fill="#f0f0f0" stroke="#000" stroke-width="1.8" stroke-dasharray="5,3.2"/>
<g font-family="Liberation Sans" font-size="18" fill="#000" stroke="#fff" stroke-width="2.5" paint-order="stroke" stroke-linejoin="round">
<text x="317.5" y="296.2" xml:space="preserve">Two  section coal pillars exist</text>
<text x="312.5" y="334.9">A single section coal pillar exists</text>
</g>
</svg></body></html>
